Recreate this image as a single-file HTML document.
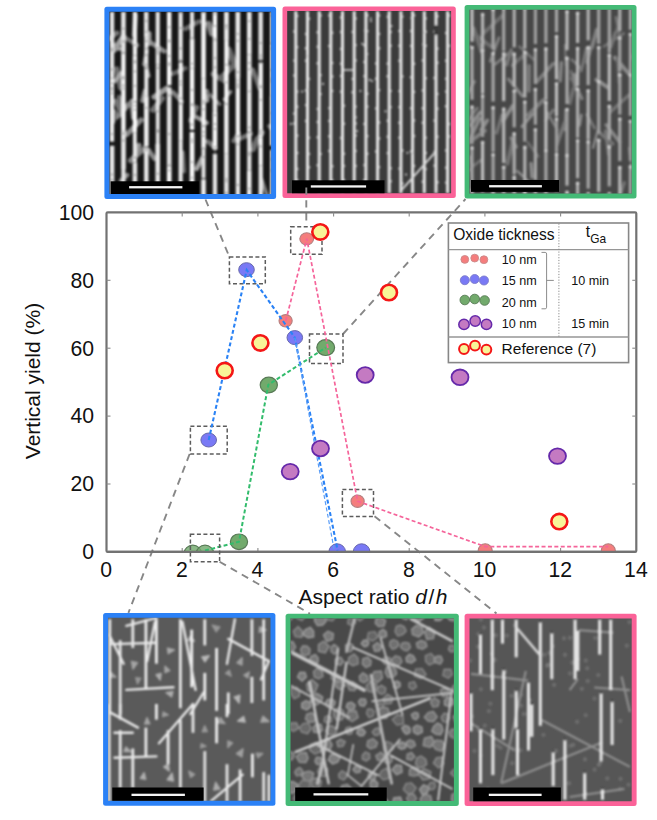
<!DOCTYPE html>
<html><head><meta charset="utf-8"><title>Vertical yield vs aspect ratio</title>
<style>
html,body{margin:0;padding:0;background:#fff;}
body{width:657px;height:820px;overflow:hidden;font-family:"Liberation Sans",sans-serif;}
svg{display:block;}
text{font-family:"Liberation Sans",sans-serif;fill:#111;}
</style></head><body>
<svg width="657" height="820" viewBox="0 0 657 820">
<defs>
<filter id="b1" x="-5%" y="-5%" width="110%" height="110%"><feGaussianBlur stdDeviation="0.85"/></filter>
<filter id="b2" x="-5%" y="-5%" width="110%" height="110%"><feGaussianBlur stdDeviation="1.1"/></filter>
<filter id="b3" x="-5%" y="-5%" width="110%" height="110%"><feGaussianBlur stdDeviation="1.3"/></filter>
<filter id="soft"><feGaussianBlur stdDeviation="0.35"/></filter>
</defs>
<rect width="657" height="820" fill="#fff"/>

<g>
<rect x="104.4" y="6.8" width="171.7" height="192.2" rx="2.5" fill="#2b81f6"/>
<clipPath id="cp1"><rect x="109.4" y="11.8" width="161.7" height="182.2"/></clipPath>
<g clip-path="url(#cp1)">
<rect x="108.4" y="10.8" width="163.70000000000002" height="184.2" fill="#171717"/>
<g filter="url(#b1)">
<line x1="124.0" y1="37.0" x2="137.5" y2="45.2" stroke="rgb(112,112,112)" stroke-width="4.2" stroke-linecap="round"/>
<line x1="118.8" y1="96.6" x2="120.1" y2="105.0" stroke="rgb(108,108,108)" stroke-width="3.8" stroke-linecap="round"/>
<line x1="198.5" y1="21.7" x2="185.5" y2="28.7" stroke="rgb(107,107,107)" stroke-width="4.7" stroke-linecap="round"/>
<line x1="127.3" y1="175.0" x2="120.8" y2="180.6" stroke="rgb(137,137,137)" stroke-width="4.3" stroke-linecap="round"/>
<line x1="196.8" y1="107.3" x2="190.6" y2="120.6" stroke="rgb(113,113,113)" stroke-width="4.7" stroke-linecap="round"/>
<line x1="212.7" y1="74.1" x2="225.3" y2="81.3" stroke="rgb(107,107,107)" stroke-width="4.8" stroke-linecap="round"/>
<line x1="131.7" y1="100.7" x2="133.2" y2="118.0" stroke="rgb(158,158,158)" stroke-width="4.1" stroke-linecap="round"/>
<line x1="149.6" y1="41.9" x2="164.2" y2="51.2" stroke="rgb(138,138,138)" stroke-width="4.6" stroke-linecap="round"/>
<line x1="250.9" y1="133.8" x2="240.4" y2="138.4" stroke="rgb(115,115,115)" stroke-width="4.5" stroke-linecap="round"/>
<line x1="116.8" y1="69.0" x2="120.4" y2="87.9" stroke="rgb(109,109,109)" stroke-width="5.2" stroke-linecap="round"/>
<line x1="202.1" y1="158.2" x2="196.7" y2="168.7" stroke="rgb(163,163,163)" stroke-width="4.7" stroke-linecap="round"/>
<line x1="183.2" y1="152.2" x2="184.4" y2="171.5" stroke="rgb(108,108,108)" stroke-width="3.4" stroke-linecap="round"/>
<line x1="141.0" y1="120.0" x2="127.1" y2="134.3" stroke="rgb(136,136,136)" stroke-width="5.1" stroke-linecap="round"/>
<line x1="252.8" y1="69.8" x2="259.4" y2="88.0" stroke="rgb(114,114,114)" stroke-width="4.5" stroke-linecap="round"/>
<line x1="144.7" y1="59.9" x2="148.8" y2="76.2" stroke="rgb(163,163,163)" stroke-width="3.4" stroke-linecap="round"/>
<line x1="129.6" y1="103.7" x2="116.7" y2="117.1" stroke="rgb(135,135,135)" stroke-width="5.0" stroke-linecap="round"/>
<line x1="268.9" y1="126.0" x2="276.5" y2="136.0" stroke="rgb(110,110,110)" stroke-width="3.7" stroke-linecap="round"/>
<line x1="146.9" y1="50.8" x2="144.0" y2="64.3" stroke="rgb(133,133,133)" stroke-width="3.9" stroke-linecap="round"/>
<line x1="116.0" y1="101.2" x2="122.4" y2="115.1" stroke="rgb(116,116,116)" stroke-width="5.0" stroke-linecap="round"/>
<line x1="192.8" y1="115.1" x2="206.9" y2="122.8" stroke="rgb(150,150,150)" stroke-width="4.2" stroke-linecap="round"/>
<line x1="173.1" y1="92.3" x2="181.8" y2="101.7" stroke="rgb(126,126,126)" stroke-width="4.3" stroke-linecap="round"/>
<line x1="114.3" y1="112.2" x2="112.9" y2="121.4" stroke="rgb(112,112,112)" stroke-width="5.7" stroke-linecap="round"/>
<line x1="208.6" y1="23.6" x2="211.7" y2="33.6" stroke="rgb(132,132,132)" stroke-width="5.7" stroke-linecap="round"/>
<line x1="206.8" y1="91.1" x2="207.1" y2="100.5" stroke="rgb(159,159,159)" stroke-width="4.4" stroke-linecap="round"/>
<line x1="123.4" y1="35.9" x2="114.2" y2="50.1" stroke="rgb(161,161,161)" stroke-width="5.4" stroke-linecap="round"/>
<line x1="135.5" y1="15.7" x2="134.2" y2="35.0" stroke="rgb(118,118,118)" stroke-width="5.0" stroke-linecap="round"/>
<line x1="257.2" y1="138.6" x2="253.3" y2="149.5" stroke="rgb(111,111,111)" stroke-width="5.0" stroke-linecap="round"/>
<line x1="121.2" y1="73.1" x2="115.1" y2="81.1" stroke="rgb(164,164,164)" stroke-width="4.1" stroke-linecap="round"/>
<line x1="145.5" y1="147.5" x2="130.6" y2="160.6" stroke="rgb(130,130,130)" stroke-width="5.3" stroke-linecap="round"/>
<line x1="229.0" y1="49.7" x2="233.9" y2="63.1" stroke="rgb(103,103,103)" stroke-width="5.8" stroke-linecap="round"/>
<line x1="145.0" y1="90.8" x2="142.4" y2="100.8" stroke="rgb(144,144,144)" stroke-width="4.4" stroke-linecap="round"/>
<line x1="260.9" y1="177.0" x2="267.1" y2="195.4" stroke="rgb(128,128,128)" stroke-width="3.5" stroke-linecap="round"/>
<line x1="185.4" y1="68.3" x2="172.7" y2="73.7" stroke="rgb(100,100,100)" stroke-width="4.4" stroke-linecap="round"/>
<line x1="138.8" y1="145.5" x2="135.4" y2="153.9" stroke="rgb(149,149,149)" stroke-width="5.2" stroke-linecap="round"/>
<line x1="230.7" y1="91.7" x2="224.2" y2="99.5" stroke="rgb(142,142,142)" stroke-width="3.4" stroke-linecap="round"/>
<line x1="262.4" y1="132.5" x2="254.9" y2="143.8" stroke="rgb(110,110,110)" stroke-width="5.1" stroke-linecap="round"/>
<line x1="117.1" y1="33.0" x2="108.9" y2="38.6" stroke="rgb(118,118,118)" stroke-width="4.8" stroke-linecap="round"/>
<line x1="205.8" y1="91.1" x2="219.9" y2="104.2" stroke="rgb(116,116,116)" stroke-width="3.3" stroke-linecap="round"/>
<line x1="238.7" y1="133.2" x2="233.5" y2="140.9" stroke="rgb(117,117,117)" stroke-width="4.3" stroke-linecap="round"/>
<line x1="148.6" y1="149.9" x2="154.5" y2="158.7" stroke="rgb(137,137,137)" stroke-width="4.5" stroke-linecap="round"/>
<line x1="232.9" y1="66.3" x2="222.4" y2="76.4" stroke="rgb(107,107,107)" stroke-width="5.6" stroke-linecap="round"/>
<line x1="166.6" y1="88.4" x2="154.2" y2="96.9" stroke="rgb(153,153,153)" stroke-width="5.4" stroke-linecap="round"/>
<line x1="148.9" y1="33.7" x2="148.7" y2="43.5" stroke="rgb(156,156,156)" stroke-width="5.2" stroke-linecap="round"/>
<line x1="207.8" y1="141.6" x2="215.2" y2="147.9" stroke="rgb(115,115,115)" stroke-width="4.6" stroke-linecap="round"/>
<line x1="162.1" y1="98.5" x2="152.9" y2="109.9" stroke="rgb(113,113,113)" stroke-width="5.5" stroke-linecap="round"/>
<line x1="112.0" y1="43.8" x2="119.0" y2="48.6" stroke="rgb(157,157,157)" stroke-width="4.7" stroke-linecap="round"/>
<rect x="109.9" y="11.8" width="4.3" height="66.8" fill="rgb(228,228,228)"/>
<rect x="109.8" y="78.6" width="4.3" height="63.1" fill="rgb(240,240,240)"/>
<rect x="109.8" y="145.7" width="4.5" height="52.9" fill="rgb(233,233,233)"/>
<circle cx="112.0" cy="179.9" r="0.9" fill="#777"/>
<circle cx="112.0" cy="174.5" r="0.9" fill="#777"/>
<circle cx="112.0" cy="48.7" r="0.9" fill="#777"/>
<circle cx="112.0" cy="93.3" r="0.9" fill="#777"/>
<circle cx="112.0" cy="87.7" r="0.9" fill="#777"/>
<circle cx="112.0" cy="83.3" r="0.9" fill="#777"/>
<circle cx="112.0" cy="69.4" r="0.9" fill="#777"/>
<circle cx="112.0" cy="134.1" r="0.9" fill="#777"/>
<circle cx="112.0" cy="89.8" r="0.9" fill="#777"/>
<circle cx="112.0" cy="50.6" r="0.9" fill="#777"/>
<rect x="121.1" y="11.8" width="4.6" height="41.7" fill="rgb(229,229,229)"/>
<rect x="121.2" y="53.5" width="4.4" height="76.7" fill="rgb(246,246,246)"/>
<rect x="121.1" y="130.1" width="4.7" height="38.9" fill="rgb(230,230,230)"/>
<rect x="121.3" y="169.0" width="4.2" height="66.1" fill="rgb(229,229,229)"/>
<circle cx="123.4" cy="41.5" r="0.9" fill="#777"/>
<circle cx="123.4" cy="133.5" r="0.9" fill="#777"/>
<circle cx="123.4" cy="52.6" r="0.9" fill="#777"/>
<circle cx="123.4" cy="140.5" r="0.9" fill="#777"/>
<circle cx="123.4" cy="192.9" r="0.9" fill="#777"/>
<circle cx="123.4" cy="85.4" r="0.9" fill="#777"/>
<circle cx="123.4" cy="88.6" r="0.9" fill="#777"/>
<circle cx="123.4" cy="76.8" r="0.9" fill="#777"/>
<circle cx="123.4" cy="28.6" r="0.9" fill="#777"/>
<circle cx="123.4" cy="78.5" r="0.9" fill="#777"/>
<rect x="132.8" y="11.8" width="4.3" height="43.6" fill="rgb(240,240,240)"/>
<rect x="132.7" y="55.4" width="4.4" height="46.1" fill="rgb(242,242,242)"/>
<rect x="132.8" y="101.5" width="4.1" height="31.2" fill="rgb(251,251,251)"/>
<rect x="132.9" y="132.7" width="3.9" height="29.6" fill="rgb(234,234,234)"/>
<rect x="132.6" y="162.4" width="4.6" height="39.9" fill="rgb(230,230,230)"/>
<circle cx="134.9" cy="85.8" r="0.9" fill="#777"/>
<circle cx="134.9" cy="109.6" r="0.9" fill="#777"/>
<circle cx="134.9" cy="105.6" r="0.9" fill="#777"/>
<circle cx="134.9" cy="101.9" r="0.9" fill="#777"/>
<circle cx="134.9" cy="71.4" r="0.9" fill="#777"/>
<circle cx="134.9" cy="62.6" r="0.9" fill="#777"/>
<circle cx="134.9" cy="157.5" r="0.9" fill="#777"/>
<circle cx="134.9" cy="45.2" r="0.9" fill="#777"/>
<circle cx="134.9" cy="174.9" r="0.9" fill="#777"/>
<circle cx="134.9" cy="60.8" r="0.9" fill="#777"/>
<rect x="144.0" y="11.8" width="4.5" height="25.9" fill="rgb(228,228,228)"/>
<rect x="144.3" y="37.7" width="4.0" height="58.4" fill="rgb(233,233,233)"/>
<rect x="144.0" y="96.2" width="4.7" height="50.0" fill="rgb(236,236,236)"/>
<rect x="144.1" y="148.1" width="4.4" height="76.0" fill="rgb(234,234,234)"/>
<circle cx="146.3" cy="107.8" r="0.9" fill="#777"/>
<circle cx="146.3" cy="55.2" r="0.9" fill="#777"/>
<circle cx="146.3" cy="31.7" r="0.9" fill="#777"/>
<circle cx="146.3" cy="41.2" r="0.9" fill="#777"/>
<circle cx="146.3" cy="21.0" r="0.9" fill="#777"/>
<circle cx="146.3" cy="48.6" r="0.9" fill="#777"/>
<circle cx="146.3" cy="68.6" r="0.9" fill="#777"/>
<circle cx="146.3" cy="67.4" r="0.9" fill="#777"/>
<circle cx="146.3" cy="150.2" r="0.9" fill="#777"/>
<circle cx="146.3" cy="64.6" r="0.9" fill="#777"/>
<rect x="155.7" y="11.8" width="4.1" height="52.5" fill="rgb(231,231,231)"/>
<rect x="155.8" y="64.3" width="3.9" height="79.7" fill="rgb(227,227,227)"/>
<rect x="155.4" y="144.0" width="4.6" height="53.3" fill="rgb(233,233,233)"/>
<circle cx="157.8" cy="131.7" r="0.9" fill="#777"/>
<circle cx="157.8" cy="130.2" r="0.9" fill="#777"/>
<circle cx="157.8" cy="131.4" r="0.9" fill="#777"/>
<circle cx="157.8" cy="111.3" r="0.9" fill="#777"/>
<circle cx="157.8" cy="173.7" r="0.9" fill="#777"/>
<circle cx="157.8" cy="188.6" r="0.9" fill="#777"/>
<circle cx="157.8" cy="67.9" r="0.9" fill="#777"/>
<circle cx="157.8" cy="51.0" r="0.9" fill="#777"/>
<circle cx="157.8" cy="53.6" r="0.9" fill="#777"/>
<circle cx="157.8" cy="48.0" r="0.9" fill="#777"/>
<rect x="167.0" y="11.8" width="4.4" height="73.5" fill="rgb(249,249,249)"/>
<rect x="166.9" y="87.3" width="4.6" height="79.4" fill="rgb(227,227,227)"/>
<rect x="166.9" y="166.7" width="4.6" height="28.9" fill="rgb(249,249,249)"/>
<circle cx="169.2" cy="41.5" r="0.9" fill="#777"/>
<circle cx="169.2" cy="27.2" r="0.9" fill="#777"/>
<circle cx="169.2" cy="165.1" r="0.9" fill="#777"/>
<circle cx="169.2" cy="170.4" r="0.9" fill="#777"/>
<circle cx="169.2" cy="134.0" r="0.9" fill="#777"/>
<circle cx="169.2" cy="63.2" r="0.9" fill="#777"/>
<circle cx="169.2" cy="55.9" r="0.9" fill="#777"/>
<circle cx="169.2" cy="65.2" r="0.9" fill="#777"/>
<circle cx="169.2" cy="95.5" r="0.9" fill="#777"/>
<circle cx="169.2" cy="40.5" r="0.9" fill="#777"/>
<rect x="178.5" y="11.8" width="4.2" height="49.5" fill="rgb(234,234,234)"/>
<rect x="178.6" y="62.3" width="4.2" height="78.5" fill="rgb(243,243,243)"/>
<rect x="178.6" y="140.8" width="4.1" height="78.1" fill="rgb(235,235,235)"/>
<circle cx="180.6" cy="12.0" r="0.9" fill="#777"/>
<circle cx="180.6" cy="81.3" r="0.9" fill="#777"/>
<circle cx="180.6" cy="98.3" r="0.9" fill="#777"/>
<circle cx="180.6" cy="103.4" r="0.9" fill="#777"/>
<circle cx="180.6" cy="48.4" r="0.9" fill="#777"/>
<circle cx="180.6" cy="103.8" r="0.9" fill="#777"/>
<circle cx="180.6" cy="12.7" r="0.9" fill="#777"/>
<circle cx="180.6" cy="59.9" r="0.9" fill="#777"/>
<circle cx="180.6" cy="28.2" r="0.9" fill="#777"/>
<circle cx="180.6" cy="84.6" r="0.9" fill="#777"/>
<rect x="190.0" y="11.8" width="4.1" height="27.3" fill="rgb(226,226,226)"/>
<rect x="189.8" y="39.1" width="4.6" height="29.6" fill="rgb(242,242,242)"/>
<rect x="189.8" y="68.7" width="4.5" height="61.2" fill="rgb(248,248,248)"/>
<rect x="189.7" y="131.9" width="4.7" height="67.0" fill="rgb(249,249,249)"/>
<circle cx="192.1" cy="63.6" r="0.9" fill="#777"/>
<circle cx="192.1" cy="124.5" r="0.9" fill="#777"/>
<circle cx="192.1" cy="38.2" r="0.9" fill="#777"/>
<circle cx="192.1" cy="162.1" r="0.9" fill="#777"/>
<circle cx="192.1" cy="142.1" r="0.9" fill="#777"/>
<circle cx="192.1" cy="105.3" r="0.9" fill="#777"/>
<circle cx="192.1" cy="90.0" r="0.9" fill="#777"/>
<circle cx="192.1" cy="139.5" r="0.9" fill="#777"/>
<circle cx="192.1" cy="103.9" r="0.9" fill="#777"/>
<circle cx="192.1" cy="177.6" r="0.9" fill="#777"/>
<rect x="201.2" y="11.8" width="4.6" height="66.4" fill="rgb(244,244,244)"/>
<rect x="201.3" y="78.2" width="4.5" height="70.5" fill="rgb(244,244,244)"/>
<rect x="201.5" y="148.7" width="4.0" height="29.7" fill="rgb(227,227,227)"/>
<rect x="201.2" y="179.3" width="4.6" height="77.8" fill="rgb(238,238,238)"/>
<circle cx="203.5" cy="126.2" r="0.9" fill="#777"/>
<circle cx="203.5" cy="125.9" r="0.9" fill="#777"/>
<circle cx="203.5" cy="135.8" r="0.9" fill="#777"/>
<circle cx="203.5" cy="100.9" r="0.9" fill="#777"/>
<circle cx="203.5" cy="12.4" r="0.9" fill="#777"/>
<circle cx="203.5" cy="157.1" r="0.9" fill="#777"/>
<circle cx="203.5" cy="148.1" r="0.9" fill="#777"/>
<circle cx="203.5" cy="103.4" r="0.9" fill="#777"/>
<circle cx="203.5" cy="109.3" r="0.9" fill="#777"/>
<circle cx="203.5" cy="131.9" r="0.9" fill="#777"/>
<rect x="212.8" y="11.8" width="4.3" height="28.6" fill="rgb(249,249,249)"/>
<rect x="212.7" y="40.4" width="4.5" height="71.5" fill="rgb(233,233,233)"/>
<rect x="212.6" y="112.0" width="4.7" height="37.7" fill="rgb(246,246,246)"/>
<rect x="212.8" y="153.7" width="4.3" height="71.5" fill="rgb(228,228,228)"/>
<circle cx="215.0" cy="151.5" r="0.9" fill="#777"/>
<circle cx="215.0" cy="124.2" r="0.9" fill="#777"/>
<circle cx="215.0" cy="128.9" r="0.9" fill="#777"/>
<circle cx="215.0" cy="25.9" r="0.9" fill="#777"/>
<circle cx="215.0" cy="38.7" r="0.9" fill="#777"/>
<circle cx="215.0" cy="58.1" r="0.9" fill="#777"/>
<circle cx="215.0" cy="147.2" r="0.9" fill="#777"/>
<circle cx="215.0" cy="67.3" r="0.9" fill="#777"/>
<circle cx="215.0" cy="115.2" r="0.9" fill="#777"/>
<circle cx="215.0" cy="14.1" r="0.9" fill="#777"/>
<rect x="224.1" y="11.8" width="4.7" height="28.3" fill="rgb(234,234,234)"/>
<rect x="224.3" y="40.1" width="4.3" height="63.1" fill="rgb(247,247,247)"/>
<rect x="224.1" y="103.2" width="4.5" height="50.6" fill="rgb(240,240,240)"/>
<rect x="224.1" y="153.8" width="4.6" height="42.1" fill="rgb(228,228,228)"/>
<circle cx="226.4" cy="64.6" r="0.9" fill="#777"/>
<circle cx="226.4" cy="25.7" r="0.9" fill="#777"/>
<circle cx="226.4" cy="104.1" r="0.9" fill="#777"/>
<circle cx="226.4" cy="193.0" r="0.9" fill="#777"/>
<circle cx="226.4" cy="192.9" r="0.9" fill="#777"/>
<circle cx="226.4" cy="82.3" r="0.9" fill="#777"/>
<circle cx="226.4" cy="178.8" r="0.9" fill="#777"/>
<circle cx="226.4" cy="181.3" r="0.9" fill="#777"/>
<circle cx="226.4" cy="25.4" r="0.9" fill="#777"/>
<circle cx="226.4" cy="28.3" r="0.9" fill="#777"/>
<rect x="235.5" y="11.8" width="4.7" height="66.1" fill="rgb(234,234,234)"/>
<rect x="235.7" y="77.9" width="4.3" height="58.2" fill="rgb(246,246,246)"/>
<rect x="235.7" y="136.1" width="4.3" height="63.7" fill="rgb(233,233,233)"/>
<circle cx="237.8" cy="83.6" r="0.9" fill="#777"/>
<circle cx="237.8" cy="40.8" r="0.9" fill="#777"/>
<circle cx="237.8" cy="184.9" r="0.9" fill="#777"/>
<circle cx="237.8" cy="136.0" r="0.9" fill="#777"/>
<circle cx="237.8" cy="85.7" r="0.9" fill="#777"/>
<circle cx="237.8" cy="144.3" r="0.9" fill="#777"/>
<circle cx="237.8" cy="87.6" r="0.9" fill="#777"/>
<circle cx="237.8" cy="80.3" r="0.9" fill="#777"/>
<circle cx="237.8" cy="33.8" r="0.9" fill="#777"/>
<circle cx="237.8" cy="72.2" r="0.9" fill="#777"/>
<rect x="247.0" y="11.8" width="4.6" height="42.9" fill="rgb(236,236,236)"/>
<rect x="247.0" y="54.7" width="4.5" height="76.7" fill="rgb(232,232,232)"/>
<rect x="247.2" y="131.3" width="4.2" height="38.9" fill="rgb(228,228,228)"/>
<rect x="247.0" y="170.3" width="4.5" height="44.8" fill="rgb(239,239,239)"/>
<circle cx="249.3" cy="62.9" r="0.9" fill="#777"/>
<circle cx="249.3" cy="21.2" r="0.9" fill="#777"/>
<circle cx="249.3" cy="132.4" r="0.9" fill="#777"/>
<circle cx="249.3" cy="127.5" r="0.9" fill="#777"/>
<circle cx="249.3" cy="38.9" r="0.9" fill="#777"/>
<circle cx="249.3" cy="188.7" r="0.9" fill="#777"/>
<circle cx="249.3" cy="91.3" r="0.9" fill="#777"/>
<circle cx="249.3" cy="69.3" r="0.9" fill="#777"/>
<circle cx="249.3" cy="152.7" r="0.9" fill="#777"/>
<circle cx="249.3" cy="154.9" r="0.9" fill="#777"/>
<rect x="258.4" y="11.8" width="4.5" height="48.5" fill="rgb(226,226,226)"/>
<rect x="258.6" y="62.3" width="4.3" height="75.2" fill="rgb(243,243,243)"/>
<rect x="258.6" y="137.6" width="4.2" height="27.7" fill="rgb(249,249,249)"/>
<rect x="258.6" y="165.3" width="4.3" height="60.4" fill="rgb(235,235,235)"/>
<circle cx="260.7" cy="42.9" r="0.9" fill="#777"/>
<circle cx="260.7" cy="87.4" r="0.9" fill="#777"/>
<circle cx="260.7" cy="63.1" r="0.9" fill="#777"/>
<circle cx="260.7" cy="58.4" r="0.9" fill="#777"/>
<circle cx="260.7" cy="146.4" r="0.9" fill="#777"/>
<circle cx="260.7" cy="130.7" r="0.9" fill="#777"/>
<circle cx="260.7" cy="85.8" r="0.9" fill="#777"/>
<circle cx="260.7" cy="55.3" r="0.9" fill="#777"/>
<circle cx="260.7" cy="99.8" r="0.9" fill="#777"/>
<circle cx="260.7" cy="133.7" r="0.9" fill="#777"/>
<rect x="270.1" y="11.8" width="4.0" height="31.6" fill="rgb(246,246,246)"/>
<rect x="270.0" y="43.4" width="4.3" height="52.5" fill="rgb(251,251,251)"/>
<rect x="269.8" y="95.9" width="4.7" height="49.9" fill="rgb(236,236,236)"/>
<rect x="270.1" y="149.8" width="4.1" height="48.5" fill="rgb(243,243,243)"/>
<circle cx="272.2" cy="43.6" r="0.9" fill="#777"/>
<circle cx="272.2" cy="113.1" r="0.9" fill="#777"/>
<circle cx="272.2" cy="70.0" r="0.9" fill="#777"/>
<circle cx="272.2" cy="78.9" r="0.9" fill="#777"/>
<circle cx="272.2" cy="159.3" r="0.9" fill="#777"/>
<circle cx="272.2" cy="48.6" r="0.9" fill="#777"/>
<circle cx="272.2" cy="15.5" r="0.9" fill="#777"/>
<circle cx="272.2" cy="170.4" r="0.9" fill="#777"/>
<circle cx="272.2" cy="81.6" r="0.9" fill="#777"/>
<circle cx="272.2" cy="147.7" r="0.9" fill="#777"/>
</g>
<rect x="110.6" y="181.3" width="88.2" height="15.7" fill="#000"/>
<rect x="129.1" y="186.1" width="53.3" height="2.3" fill="#f4f4f4" filter="url(#soft)"/>
</g></g>
<g>
<rect x="282.5" y="6.4" width="173.3" height="191.6" rx="2.5" fill="#fb6298"/>
<clipPath id="cp2"><rect x="287.2" y="11.1" width="163.9" height="182.2"/></clipPath>
<g clip-path="url(#cp2)">
<rect x="286.2" y="10.100000000000001" width="165.90000000000003" height="184.20000000000002" fill="#3b3b3b"/>
<g filter="url(#b1)">
<rect x="294.3" y="11.100000000000001" width="3.0" height="182.20000000000002" fill="#e8e8e8"/>
<circle cx="297.3" cy="15.9" r="1.2" fill="#d6d6d6"/>
<circle cx="294.3" cy="31.5" r="1.2" fill="#d6d6d6"/>
<circle cx="297.3" cy="47.1" r="1.2" fill="#d6d6d6"/>
<circle cx="294.3" cy="60.6" r="1.2" fill="#d6d6d6"/>
<circle cx="294.3" cy="75.5" r="1.2" fill="#d6d6d6"/>
<circle cx="297.3" cy="91.6" r="1.2" fill="#d6d6d6"/>
<circle cx="297.3" cy="106.8" r="1.2" fill="#d6d6d6"/>
<circle cx="294.3" cy="123.5" r="1.2" fill="#d6d6d6"/>
<circle cx="297.3" cy="135.6" r="1.2" fill="#d6d6d6"/>
<circle cx="297.3" cy="152.9" r="1.2" fill="#d6d6d6"/>
<circle cx="297.3" cy="169.0" r="1.2" fill="#d6d6d6"/>
<circle cx="297.3" cy="180.1" r="1.2" fill="#d6d6d6"/>
<rect x="306.0" y="11.100000000000001" width="3.0" height="182.20000000000002" fill="#e8e8e8"/>
<circle cx="309.0" cy="18.8" r="1.2" fill="#d6d6d6"/>
<circle cx="306.0" cy="34.0" r="1.2" fill="#d6d6d6"/>
<circle cx="306.0" cy="48.2" r="1.2" fill="#d6d6d6"/>
<circle cx="306.0" cy="60.7" r="1.2" fill="#d6d6d6"/>
<circle cx="309.0" cy="78.9" r="1.2" fill="#d6d6d6"/>
<circle cx="306.0" cy="90.4" r="1.2" fill="#d6d6d6"/>
<circle cx="306.0" cy="105.1" r="1.2" fill="#d6d6d6"/>
<circle cx="306.0" cy="121.0" r="1.2" fill="#d6d6d6"/>
<circle cx="309.0" cy="137.7" r="1.2" fill="#d6d6d6"/>
<circle cx="309.0" cy="153.9" r="1.2" fill="#d6d6d6"/>
<circle cx="309.0" cy="167.2" r="1.2" fill="#d6d6d6"/>
<circle cx="306.0" cy="182.9" r="1.2" fill="#d6d6d6"/>
<rect x="317.7" y="11.100000000000001" width="3.0" height="182.20000000000002" fill="#e8e8e8"/>
<circle cx="320.7" cy="15.5" r="1.2" fill="#d6d6d6"/>
<circle cx="317.7" cy="32.2" r="1.2" fill="#d6d6d6"/>
<circle cx="317.7" cy="46.7" r="1.2" fill="#d6d6d6"/>
<circle cx="317.7" cy="63.3" r="1.2" fill="#d6d6d6"/>
<circle cx="320.7" cy="75.1" r="1.2" fill="#d6d6d6"/>
<circle cx="320.7" cy="94.1" r="1.2" fill="#d6d6d6"/>
<circle cx="317.7" cy="108.9" r="1.2" fill="#d6d6d6"/>
<circle cx="317.7" cy="122.0" r="1.2" fill="#d6d6d6"/>
<circle cx="317.7" cy="137.3" r="1.2" fill="#d6d6d6"/>
<circle cx="320.7" cy="153.9" r="1.2" fill="#d6d6d6"/>
<circle cx="317.7" cy="165.3" r="1.2" fill="#d6d6d6"/>
<circle cx="320.7" cy="182.1" r="1.2" fill="#d6d6d6"/>
<rect x="329.3" y="11.100000000000001" width="3.0" height="182.20000000000002" fill="#e8e8e8"/>
<circle cx="329.3" cy="15.4" r="1.2" fill="#d6d6d6"/>
<circle cx="332.3" cy="32.8" r="1.2" fill="#d6d6d6"/>
<circle cx="329.3" cy="46.0" r="1.2" fill="#d6d6d6"/>
<circle cx="332.3" cy="62.9" r="1.2" fill="#d6d6d6"/>
<circle cx="332.3" cy="76.5" r="1.2" fill="#d6d6d6"/>
<circle cx="332.3" cy="90.9" r="1.2" fill="#d6d6d6"/>
<circle cx="329.3" cy="108.1" r="1.2" fill="#d6d6d6"/>
<circle cx="329.3" cy="120.9" r="1.2" fill="#d6d6d6"/>
<circle cx="329.3" cy="136.3" r="1.2" fill="#d6d6d6"/>
<circle cx="329.3" cy="151.0" r="1.2" fill="#d6d6d6"/>
<circle cx="332.3" cy="166.2" r="1.2" fill="#d6d6d6"/>
<circle cx="332.3" cy="180.5" r="1.2" fill="#d6d6d6"/>
<rect x="341.0" y="11.100000000000001" width="3.0" height="182.20000000000002" fill="#e8e8e8"/>
<circle cx="341.0" cy="17.5" r="1.2" fill="#d6d6d6"/>
<circle cx="341.0" cy="32.0" r="1.2" fill="#d6d6d6"/>
<circle cx="341.0" cy="48.9" r="1.2" fill="#d6d6d6"/>
<circle cx="341.0" cy="63.8" r="1.2" fill="#d6d6d6"/>
<circle cx="341.0" cy="76.0" r="1.2" fill="#d6d6d6"/>
<circle cx="341.0" cy="91.8" r="1.2" fill="#d6d6d6"/>
<circle cx="344.0" cy="105.8" r="1.2" fill="#d6d6d6"/>
<circle cx="344.0" cy="123.7" r="1.2" fill="#d6d6d6"/>
<circle cx="341.0" cy="138.0" r="1.2" fill="#d6d6d6"/>
<circle cx="344.0" cy="153.8" r="1.2" fill="#d6d6d6"/>
<circle cx="344.0" cy="165.9" r="1.2" fill="#d6d6d6"/>
<circle cx="344.0" cy="180.2" r="1.2" fill="#d6d6d6"/>
<rect x="352.7" y="11.100000000000001" width="3.0" height="182.20000000000002" fill="#e8e8e8"/>
<circle cx="355.7" cy="18.5" r="1.2" fill="#d6d6d6"/>
<circle cx="352.7" cy="31.9" r="1.2" fill="#d6d6d6"/>
<circle cx="355.7" cy="45.1" r="1.2" fill="#d6d6d6"/>
<circle cx="355.7" cy="60.4" r="1.2" fill="#d6d6d6"/>
<circle cx="352.7" cy="78.9" r="1.2" fill="#d6d6d6"/>
<circle cx="352.7" cy="92.3" r="1.2" fill="#d6d6d6"/>
<circle cx="355.7" cy="106.6" r="1.2" fill="#d6d6d6"/>
<circle cx="355.7" cy="123.4" r="1.2" fill="#d6d6d6"/>
<circle cx="355.7" cy="135.5" r="1.2" fill="#d6d6d6"/>
<circle cx="355.7" cy="150.9" r="1.2" fill="#d6d6d6"/>
<circle cx="355.7" cy="165.9" r="1.2" fill="#d6d6d6"/>
<circle cx="355.7" cy="183.0" r="1.2" fill="#d6d6d6"/>
<rect x="364.4" y="11.100000000000001" width="3.0" height="182.20000000000002" fill="#e8e8e8"/>
<circle cx="367.4" cy="15.2" r="1.2" fill="#d6d6d6"/>
<circle cx="367.4" cy="31.1" r="1.2" fill="#d6d6d6"/>
<circle cx="364.4" cy="45.3" r="1.2" fill="#d6d6d6"/>
<circle cx="364.4" cy="62.0" r="1.2" fill="#d6d6d6"/>
<circle cx="364.4" cy="76.1" r="1.2" fill="#d6d6d6"/>
<circle cx="367.4" cy="93.7" r="1.2" fill="#d6d6d6"/>
<circle cx="367.4" cy="106.6" r="1.2" fill="#d6d6d6"/>
<circle cx="364.4" cy="123.9" r="1.2" fill="#d6d6d6"/>
<circle cx="367.4" cy="136.1" r="1.2" fill="#d6d6d6"/>
<circle cx="367.4" cy="153.8" r="1.2" fill="#d6d6d6"/>
<circle cx="364.4" cy="165.1" r="1.2" fill="#d6d6d6"/>
<circle cx="364.4" cy="180.2" r="1.2" fill="#d6d6d6"/>
<rect x="376.1" y="11.100000000000001" width="3.0" height="182.20000000000002" fill="#e8e8e8"/>
<circle cx="379.1" cy="15.5" r="1.2" fill="#d6d6d6"/>
<circle cx="379.1" cy="33.9" r="1.2" fill="#d6d6d6"/>
<circle cx="379.1" cy="48.3" r="1.2" fill="#d6d6d6"/>
<circle cx="376.1" cy="63.4" r="1.2" fill="#d6d6d6"/>
<circle cx="376.1" cy="78.8" r="1.2" fill="#d6d6d6"/>
<circle cx="379.1" cy="90.1" r="1.2" fill="#d6d6d6"/>
<circle cx="376.1" cy="108.4" r="1.2" fill="#d6d6d6"/>
<circle cx="379.1" cy="122.5" r="1.2" fill="#d6d6d6"/>
<circle cx="379.1" cy="138.5" r="1.2" fill="#d6d6d6"/>
<circle cx="376.1" cy="151.5" r="1.2" fill="#d6d6d6"/>
<circle cx="379.1" cy="167.1" r="1.2" fill="#d6d6d6"/>
<circle cx="376.1" cy="183.1" r="1.2" fill="#d6d6d6"/>
<rect x="387.7" y="11.100000000000001" width="3.0" height="182.20000000000002" fill="#e8e8e8"/>
<circle cx="387.7" cy="16.7" r="1.2" fill="#d6d6d6"/>
<circle cx="390.7" cy="32.0" r="1.2" fill="#d6d6d6"/>
<circle cx="390.7" cy="45.7" r="1.2" fill="#d6d6d6"/>
<circle cx="387.7" cy="63.6" r="1.2" fill="#d6d6d6"/>
<circle cx="387.7" cy="76.2" r="1.2" fill="#d6d6d6"/>
<circle cx="390.7" cy="90.9" r="1.2" fill="#d6d6d6"/>
<circle cx="390.7" cy="107.1" r="1.2" fill="#d6d6d6"/>
<circle cx="387.7" cy="120.8" r="1.2" fill="#d6d6d6"/>
<circle cx="387.7" cy="136.8" r="1.2" fill="#d6d6d6"/>
<circle cx="387.7" cy="153.1" r="1.2" fill="#d6d6d6"/>
<circle cx="390.7" cy="168.2" r="1.2" fill="#d6d6d6"/>
<circle cx="390.7" cy="181.3" r="1.2" fill="#d6d6d6"/>
<rect x="399.4" y="11.100000000000001" width="3.0" height="182.20000000000002" fill="#e8e8e8"/>
<circle cx="402.4" cy="16.6" r="1.2" fill="#d6d6d6"/>
<circle cx="399.4" cy="30.9" r="1.2" fill="#d6d6d6"/>
<circle cx="399.4" cy="45.8" r="1.2" fill="#d6d6d6"/>
<circle cx="399.4" cy="60.7" r="1.2" fill="#d6d6d6"/>
<circle cx="402.4" cy="76.4" r="1.2" fill="#d6d6d6"/>
<circle cx="399.4" cy="91.1" r="1.2" fill="#d6d6d6"/>
<circle cx="399.4" cy="107.1" r="1.2" fill="#d6d6d6"/>
<circle cx="399.4" cy="122.7" r="1.2" fill="#d6d6d6"/>
<circle cx="399.4" cy="137.7" r="1.2" fill="#d6d6d6"/>
<circle cx="402.4" cy="150.5" r="1.2" fill="#d6d6d6"/>
<circle cx="399.4" cy="168.6" r="1.2" fill="#d6d6d6"/>
<circle cx="402.4" cy="183.5" r="1.2" fill="#d6d6d6"/>
<rect x="411.1" y="11.100000000000001" width="3.0" height="182.20000000000002" fill="#e8e8e8"/>
<circle cx="414.1" cy="15.3" r="1.2" fill="#d6d6d6"/>
<circle cx="411.1" cy="31.0" r="1.2" fill="#d6d6d6"/>
<circle cx="411.1" cy="45.9" r="1.2" fill="#d6d6d6"/>
<circle cx="414.1" cy="63.8" r="1.2" fill="#d6d6d6"/>
<circle cx="411.1" cy="77.2" r="1.2" fill="#d6d6d6"/>
<circle cx="414.1" cy="91.9" r="1.2" fill="#d6d6d6"/>
<circle cx="411.1" cy="108.2" r="1.2" fill="#d6d6d6"/>
<circle cx="414.1" cy="120.5" r="1.2" fill="#d6d6d6"/>
<circle cx="414.1" cy="136.0" r="1.2" fill="#d6d6d6"/>
<circle cx="411.1" cy="151.5" r="1.2" fill="#d6d6d6"/>
<circle cx="414.1" cy="165.9" r="1.2" fill="#d6d6d6"/>
<circle cx="411.1" cy="180.3" r="1.2" fill="#d6d6d6"/>
<rect x="422.8" y="11.100000000000001" width="3.0" height="182.20000000000002" fill="#e8e8e8"/>
<circle cx="425.8" cy="18.4" r="1.2" fill="#d6d6d6"/>
<circle cx="425.8" cy="31.7" r="1.2" fill="#d6d6d6"/>
<circle cx="425.8" cy="45.8" r="1.2" fill="#d6d6d6"/>
<circle cx="422.8" cy="60.4" r="1.2" fill="#d6d6d6"/>
<circle cx="425.8" cy="78.3" r="1.2" fill="#d6d6d6"/>
<circle cx="422.8" cy="90.4" r="1.2" fill="#d6d6d6"/>
<circle cx="422.8" cy="108.3" r="1.2" fill="#d6d6d6"/>
<circle cx="422.8" cy="122.7" r="1.2" fill="#d6d6d6"/>
<circle cx="425.8" cy="137.7" r="1.2" fill="#d6d6d6"/>
<circle cx="425.8" cy="152.9" r="1.2" fill="#d6d6d6"/>
<circle cx="425.8" cy="169.1" r="1.2" fill="#d6d6d6"/>
<circle cx="422.8" cy="181.8" r="1.2" fill="#d6d6d6"/>
<rect x="434.5" y="11.100000000000001" width="3.0" height="182.20000000000002" fill="#e8e8e8"/>
<circle cx="437.5" cy="16.3" r="1.2" fill="#d6d6d6"/>
<circle cx="434.5" cy="31.8" r="1.2" fill="#d6d6d6"/>
<circle cx="437.5" cy="48.6" r="1.2" fill="#d6d6d6"/>
<circle cx="437.5" cy="62.7" r="1.2" fill="#d6d6d6"/>
<circle cx="434.5" cy="78.0" r="1.2" fill="#d6d6d6"/>
<circle cx="437.5" cy="93.9" r="1.2" fill="#d6d6d6"/>
<circle cx="437.5" cy="108.7" r="1.2" fill="#d6d6d6"/>
<circle cx="434.5" cy="120.6" r="1.2" fill="#d6d6d6"/>
<circle cx="437.5" cy="136.7" r="1.2" fill="#d6d6d6"/>
<circle cx="434.5" cy="151.9" r="1.2" fill="#d6d6d6"/>
<circle cx="434.5" cy="165.6" r="1.2" fill="#d6d6d6"/>
<circle cx="437.5" cy="182.3" r="1.2" fill="#d6d6d6"/>
<rect x="446.1" y="11.100000000000001" width="3.0" height="182.20000000000002" fill="#e8e8e8"/>
<circle cx="449.1" cy="15.5" r="1.2" fill="#d6d6d6"/>
<circle cx="446.1" cy="33.0" r="1.2" fill="#d6d6d6"/>
<circle cx="449.1" cy="45.7" r="1.2" fill="#d6d6d6"/>
<circle cx="446.1" cy="60.7" r="1.2" fill="#d6d6d6"/>
<circle cx="446.1" cy="78.8" r="1.2" fill="#d6d6d6"/>
<circle cx="446.1" cy="91.6" r="1.2" fill="#d6d6d6"/>
<circle cx="446.1" cy="106.3" r="1.2" fill="#d6d6d6"/>
<circle cx="449.1" cy="124.0" r="1.2" fill="#d6d6d6"/>
<circle cx="449.1" cy="136.4" r="1.2" fill="#d6d6d6"/>
<circle cx="446.1" cy="150.4" r="1.2" fill="#d6d6d6"/>
<circle cx="446.1" cy="167.7" r="1.2" fill="#d6d6d6"/>
<circle cx="446.1" cy="182.6" r="1.2" fill="#d6d6d6"/>
<rect x="434.0" y="25.1" width="4" height="10" fill="#3b3b3b"/>
<line x1="401.3" y1="190.4" x2="434.2" y2="153.4" stroke="#d8d8d8" stroke-width="1.8"/>
<line x1="344" y1="70" x2="354" y2="70" stroke="#d8d8d8" stroke-width="1.5"/>
<circle cx="423.1" cy="44.4" r="1.1" fill="#c8c8c8"/>
<circle cx="323.0" cy="83.9" r="1.1" fill="#c8c8c8"/>
<circle cx="372.1" cy="81.0" r="1.1" fill="#c8c8c8"/>
<circle cx="307.4" cy="56.1" r="1.1" fill="#c8c8c8"/>
<circle cx="406.0" cy="174.6" r="1.1" fill="#c8c8c8"/>
<circle cx="293.9" cy="113.6" r="1.1" fill="#c8c8c8"/>
<circle cx="411.3" cy="18.0" r="1.1" fill="#c8c8c8"/>
<circle cx="424.6" cy="32.6" r="1.1" fill="#c8c8c8"/>
<circle cx="385.5" cy="111.3" r="1.1" fill="#c8c8c8"/>
<circle cx="390.0" cy="66.9" r="1.1" fill="#c8c8c8"/>
<circle cx="356.0" cy="117.3" r="1.1" fill="#c8c8c8"/>
<circle cx="357.0" cy="131.1" r="1.1" fill="#c8c8c8"/>
<circle cx="360.4" cy="91.0" r="1.1" fill="#c8c8c8"/>
<circle cx="291.0" cy="123.9" r="1.1" fill="#c8c8c8"/>
<circle cx="367.4" cy="54.0" r="1.1" fill="#c8c8c8"/>
<circle cx="412.3" cy="153.2" r="1.1" fill="#c8c8c8"/>
<circle cx="362.3" cy="43.8" r="1.1" fill="#c8c8c8"/>
<circle cx="364.8" cy="30.6" r="1.1" fill="#c8c8c8"/>
<circle cx="308.3" cy="89.6" r="1.1" fill="#c8c8c8"/>
<circle cx="302.2" cy="91.6" r="1.1" fill="#c8c8c8"/>
<circle cx="370.8" cy="18.5" r="1.1" fill="#c8c8c8"/>
<circle cx="391.5" cy="26.1" r="1.1" fill="#c8c8c8"/>
<circle cx="407.4" cy="152.8" r="1.1" fill="#c8c8c8"/>
<circle cx="371.0" cy="21.0" r="1.1" fill="#c8c8c8"/>
<circle cx="369.8" cy="79.9" r="1.1" fill="#c8c8c8"/>
</g>
<rect x="292.0" y="180.3" width="92.5" height="15.9" fill="#000"/>
<rect x="310.8" y="185.3" width="55.3" height="2.3" fill="#f4f4f4" filter="url(#soft)"/>
</g></g>
<g>
<rect x="464.6" y="5.0" width="171.9" height="193.4" rx="2.5" fill="#44ba76"/>
<clipPath id="cp3"><rect x="469.4" y="9.8" width="162.3" height="183.8"/></clipPath>
<g clip-path="url(#cp3)">
<rect x="468.40000000000003" y="8.8" width="164.3" height="185.79999999999998" fill="#474747"/>
<g filter="url(#b2)">
<line x1="623.7" y1="33.5" x2="603.9" y2="46.4" stroke="rgb(112,112,112)" stroke-width="2.8" stroke-linecap="round"/>
<line x1="628.7" y1="95.3" x2="610.0" y2="112.3" stroke="rgb(115,115,115)" stroke-width="3.5" stroke-linecap="round"/>
<line x1="586.4" y1="48.2" x2="581.3" y2="71.0" stroke="rgb(121,121,121)" stroke-width="2.7" stroke-linecap="round"/>
<line x1="614.9" y1="57.6" x2="630.0" y2="75.0" stroke="rgb(137,137,137)" stroke-width="3.9" stroke-linecap="round"/>
<line x1="547.3" y1="112.7" x2="557.3" y2="129.8" stroke="rgb(128,128,128)" stroke-width="2.6" stroke-linecap="round"/>
<line x1="499.0" y1="37.8" x2="490.2" y2="61.2" stroke="rgb(129,129,129)" stroke-width="2.8" stroke-linecap="round"/>
<line x1="596.8" y1="29.8" x2="591.8" y2="47.6" stroke="rgb(128,128,128)" stroke-width="3.9" stroke-linecap="round"/>
<line x1="542.9" y1="100.4" x2="528.0" y2="115.2" stroke="rgb(121,121,121)" stroke-width="4.0" stroke-linecap="round"/>
<line x1="571.6" y1="78.3" x2="581.9" y2="98.6" stroke="rgb(128,128,128)" stroke-width="3.4" stroke-linecap="round"/>
<line x1="527.9" y1="142.7" x2="538.2" y2="156.3" stroke="rgb(108,108,108)" stroke-width="2.9" stroke-linecap="round"/>
<line x1="553.2" y1="63.7" x2="536.0" y2="82.5" stroke="rgb(125,125,125)" stroke-width="3.6" stroke-linecap="round"/>
<line x1="590.7" y1="48.3" x2="587.0" y2="62.5" stroke="rgb(131,131,131)" stroke-width="3.3" stroke-linecap="round"/>
<line x1="614.7" y1="32.7" x2="610.6" y2="45.7" stroke="rgb(106,106,106)" stroke-width="2.6" stroke-linecap="round"/>
<line x1="561.4" y1="62.6" x2="560.2" y2="80.9" stroke="rgb(131,131,131)" stroke-width="3.4" stroke-linecap="round"/>
<line x1="565.0" y1="45.3" x2="566.0" y2="65.2" stroke="rgb(113,113,113)" stroke-width="2.5" stroke-linecap="round"/>
<line x1="599.5" y1="132.8" x2="612.7" y2="143.8" stroke="rgb(114,114,114)" stroke-width="3.8" stroke-linecap="round"/>
<line x1="596.3" y1="79.7" x2="608.1" y2="87.6" stroke="rgb(140,140,140)" stroke-width="3.8" stroke-linecap="round"/>
<line x1="565.9" y1="110.3" x2="565.2" y2="130.0" stroke="rgb(136,136,136)" stroke-width="2.9" stroke-linecap="round"/>
<line x1="616.0" y1="17.4" x2="619.5" y2="35.6" stroke="rgb(120,120,120)" stroke-width="2.7" stroke-linecap="round"/>
<line x1="617.4" y1="28.0" x2="611.3" y2="46.9" stroke="rgb(117,117,117)" stroke-width="2.7" stroke-linecap="round"/>
<line x1="501.8" y1="115.5" x2="496.7" y2="132.9" stroke="rgb(116,116,116)" stroke-width="3.3" stroke-linecap="round"/>
<line x1="479.7" y1="118.6" x2="468.5" y2="141.9" stroke="rgb(135,135,135)" stroke-width="3.6" stroke-linecap="round"/>
<line x1="470.4" y1="156.6" x2="472.0" y2="178.4" stroke="rgb(133,133,133)" stroke-width="2.8" stroke-linecap="round"/>
<line x1="631.1" y1="55.2" x2="645.0" y2="70.0" stroke="rgb(121,121,121)" stroke-width="3.6" stroke-linecap="round"/>
<line x1="512.6" y1="106.0" x2="503.3" y2="120.3" stroke="rgb(138,138,138)" stroke-width="4.0" stroke-linecap="round"/>
<line x1="517.4" y1="171.2" x2="535.3" y2="187.6" stroke="rgb(137,137,137)" stroke-width="2.5" stroke-linecap="round"/>
<line x1="511.7" y1="50.8" x2="494.6" y2="64.6" stroke="rgb(125,125,125)" stroke-width="2.8" stroke-linecap="round"/>
<line x1="532.5" y1="114.3" x2="522.1" y2="126.5" stroke="rgb(139,139,139)" stroke-width="3.2" stroke-linecap="round"/>
<line x1="605.7" y1="131.0" x2="608.7" y2="154.6" stroke="rgb(119,119,119)" stroke-width="3.4" stroke-linecap="round"/>
<line x1="519.3" y1="46.6" x2="534.3" y2="59.9" stroke="rgb(115,115,115)" stroke-width="2.7" stroke-linecap="round"/>
<line x1="473.8" y1="28.3" x2="481.4" y2="52.0" stroke="rgb(114,114,114)" stroke-width="3.6" stroke-linecap="round"/>
<line x1="474.4" y1="33.9" x2="490.5" y2="46.2" stroke="rgb(109,109,109)" stroke-width="3.6" stroke-linecap="round"/>
<line x1="480.1" y1="112.4" x2="470.7" y2="125.2" stroke="rgb(139,139,139)" stroke-width="3.8" stroke-linecap="round"/>
<line x1="480.1" y1="160.6" x2="461.0" y2="176.2" stroke="rgb(111,111,111)" stroke-width="2.9" stroke-linecap="round"/>
<line x1="502.4" y1="15.7" x2="483.9" y2="32.8" stroke="rgb(110,110,110)" stroke-width="3.7" stroke-linecap="round"/>
<line x1="571.9" y1="59.7" x2="580.3" y2="67.8" stroke="rgb(118,118,118)" stroke-width="2.9" stroke-linecap="round"/>
<line x1="524.0" y1="55.2" x2="512.2" y2="65.4" stroke="rgb(108,108,108)" stroke-width="3.6" stroke-linecap="round"/>
<line x1="529.1" y1="65.6" x2="528.9" y2="91.0" stroke="rgb(123,123,123)" stroke-width="3.4" stroke-linecap="round"/>
<line x1="474.4" y1="81.6" x2="465.6" y2="96.1" stroke="rgb(127,127,127)" stroke-width="3.2" stroke-linecap="round"/>
<line x1="477.2" y1="108.2" x2="464.1" y2="125.2" stroke="rgb(123,123,123)" stroke-width="2.8" stroke-linecap="round"/>
<line x1="469.6" y1="44.9" x2="451.5" y2="57.7" stroke="rgb(105,105,105)" stroke-width="3.0" stroke-linecap="round"/>
<line x1="484.9" y1="130.6" x2="466.3" y2="144.4" stroke="rgb(127,127,127)" stroke-width="3.9" stroke-linecap="round"/>
<line x1="553.0" y1="110.3" x2="545.6" y2="120.4" stroke="rgb(119,119,119)" stroke-width="3.2" stroke-linecap="round"/>
<line x1="487.2" y1="120.4" x2="481.1" y2="129.9" stroke="rgb(140,140,140)" stroke-width="3.7" stroke-linecap="round"/>
<line x1="571.3" y1="71.6" x2="574.7" y2="87.7" stroke="rgb(110,110,110)" stroke-width="3.1" stroke-linecap="round"/>
<line x1="574.2" y1="74.4" x2="576.4" y2="89.1" stroke="rgb(139,139,139)" stroke-width="3.3" stroke-linecap="round"/>
<line x1="531.0" y1="163.4" x2="532.0" y2="177.1" stroke="rgb(139,139,139)" stroke-width="3.4" stroke-linecap="round"/>
<line x1="581.3" y1="115.0" x2="579.6" y2="125.4" stroke="rgb(138,138,138)" stroke-width="2.7" stroke-linecap="round"/>
<line x1="606.2" y1="124.9" x2="619.7" y2="142.1" stroke="rgb(133,133,133)" stroke-width="3.5" stroke-linecap="round"/>
<line x1="511.1" y1="50.0" x2="506.8" y2="64.7" stroke="rgb(120,120,120)" stroke-width="3.3" stroke-linecap="round"/>
<line x1="512.8" y1="141.0" x2="507.4" y2="163.6" stroke="rgb(114,114,114)" stroke-width="4.0" stroke-linecap="round"/>
<line x1="586.8" y1="114.6" x2="594.6" y2="128.0" stroke="rgb(117,117,117)" stroke-width="2.9" stroke-linecap="round"/>
<line x1="624.4" y1="182.7" x2="620.5" y2="194.7" stroke="rgb(117,117,117)" stroke-width="3.1" stroke-linecap="round"/>
<line x1="629.1" y1="148.0" x2="631.9" y2="169.5" stroke="rgb(117,117,117)" stroke-width="2.7" stroke-linecap="round"/>
<line x1="617.3" y1="58.6" x2="619.1" y2="82.7" stroke="rgb(105,105,105)" stroke-width="3.1" stroke-linecap="round"/>
<line x1="597.8" y1="130.3" x2="593.1" y2="147.7" stroke="rgb(134,134,134)" stroke-width="2.5" stroke-linecap="round"/>
<line x1="511.1" y1="138.1" x2="516.1" y2="146.9" stroke="rgb(132,132,132)" stroke-width="3.6" stroke-linecap="round"/>
<line x1="564.7" y1="122.3" x2="557.0" y2="144.5" stroke="rgb(119,119,119)" stroke-width="3.5" stroke-linecap="round"/>
<line x1="573.5" y1="88.7" x2="569.7" y2="103.2" stroke="rgb(111,111,111)" stroke-width="3.8" stroke-linecap="round"/>
<line x1="508.7" y1="79.3" x2="522.3" y2="95.9" stroke="rgb(132,132,132)" stroke-width="3.2" stroke-linecap="round"/>
<rect x="470.4" y="-9.7" width="3.2" height="51.5" fill="rgb(191,191,191)"/>
<circle cx="472.0" cy="-8.7" r="1.8" fill="#d0d0d0"/>
<rect x="470.4" y="46.5" width="3.2" height="53.3" fill="rgb(169,169,169)"/>
<circle cx="472.0" cy="47.5" r="1.8" fill="#d0d0d0"/>
<rect x="470.4" y="106.0" width="3.2" height="38.2" fill="rgb(158,158,158)"/>
<circle cx="472.0" cy="107.0" r="1.8" fill="#d0d0d0"/>
<rect x="470.4" y="146.9" width="3.2" height="42.2" fill="rgb(164,164,164)"/>
<circle cx="472.0" cy="147.9" r="1.8" fill="#d0d0d0"/>
<rect x="470.4" y="189.4" width="3.2" height="43.6" fill="rgb(168,168,168)"/>
<circle cx="472.0" cy="190.4" r="1.8" fill="#d0d0d0"/>
<rect x="481.0" y="13.6" width="3.2" height="35.0" fill="rgb(180,180,180)"/>
<circle cx="482.6" cy="14.6" r="1.8" fill="#d0d0d0"/>
<rect x="481.0" y="49.3" width="3.2" height="44.4" fill="rgb(192,192,192)"/>
<circle cx="482.6" cy="50.3" r="1.8" fill="#d0d0d0"/>
<rect x="481.0" y="95.1" width="3.2" height="41.9" fill="rgb(159,159,159)"/>
<circle cx="482.6" cy="96.1" r="1.8" fill="#d0d0d0"/>
<rect x="481.0" y="141.5" width="3.2" height="50.7" fill="rgb(191,191,191)"/>
<circle cx="482.6" cy="142.5" r="1.8" fill="#d0d0d0"/>
<rect x="491.5" y="8.4" width="3.2" height="41.4" fill="rgb(169,169,169)"/>
<circle cx="493.1" cy="9.4" r="1.8" fill="#d0d0d0"/>
<rect x="491.5" y="52.5" width="3.2" height="49.1" fill="rgb(165,165,165)"/>
<circle cx="493.1" cy="53.5" r="1.8" fill="#d0d0d0"/>
<rect x="491.5" y="106.7" width="3.2" height="45.4" fill="rgb(161,161,161)"/>
<circle cx="493.1" cy="107.7" r="1.8" fill="#d0d0d0"/>
<rect x="491.5" y="153.8" width="3.2" height="39.5" fill="rgb(161,161,161)"/>
<circle cx="493.1" cy="154.8" r="1.8" fill="#d0d0d0"/>
<rect x="491.5" y="193.5" width="3.2" height="40.5" fill="rgb(184,184,184)"/>
<circle cx="493.1" cy="194.5" r="1.8" fill="#d0d0d0"/>
<rect x="502.1" y="6.7" width="3.2" height="44.5" fill="rgb(164,164,164)"/>
<circle cx="503.7" cy="7.7" r="1.8" fill="#d0d0d0"/>
<rect x="502.1" y="52.7" width="3.2" height="48.5" fill="rgb(191,191,191)"/>
<circle cx="503.7" cy="53.7" r="1.8" fill="#d0d0d0"/>
<rect x="502.1" y="108.1" width="3.2" height="54.9" fill="rgb(183,183,183)"/>
<circle cx="503.7" cy="109.1" r="1.8" fill="#d0d0d0"/>
<rect x="502.1" y="166.2" width="3.2" height="34.1" fill="rgb(162,162,162)"/>
<circle cx="503.7" cy="167.2" r="1.8" fill="#d0d0d0"/>
<rect x="512.6" y="5.7" width="3.2" height="41.7" fill="rgb(172,172,172)"/>
<circle cx="514.2" cy="6.7" r="1.8" fill="#d0d0d0"/>
<rect x="512.6" y="53.1" width="3.2" height="33.7" fill="rgb(184,184,184)"/>
<circle cx="514.2" cy="54.1" r="1.8" fill="#d0d0d0"/>
<rect x="512.6" y="90.0" width="3.2" height="37.4" fill="rgb(166,166,166)"/>
<circle cx="514.2" cy="91.0" r="1.8" fill="#d0d0d0"/>
<rect x="512.6" y="132.8" width="3.2" height="41.7" fill="rgb(172,172,172)"/>
<circle cx="514.2" cy="133.8" r="1.8" fill="#d0d0d0"/>
<rect x="512.6" y="176.4" width="3.2" height="39.4" fill="rgb(174,174,174)"/>
<circle cx="514.2" cy="177.4" r="1.8" fill="#d0d0d0"/>
<rect x="523.2" y="6.8" width="3.2" height="42.0" fill="rgb(175,175,175)"/>
<circle cx="524.8" cy="7.8" r="1.8" fill="#d0d0d0"/>
<rect x="523.2" y="51.3" width="3.2" height="46.4" fill="rgb(178,178,178)"/>
<circle cx="524.8" cy="52.3" r="1.8" fill="#d0d0d0"/>
<rect x="523.2" y="101.0" width="3.2" height="40.7" fill="rgb(163,163,163)"/>
<circle cx="524.8" cy="102.0" r="1.8" fill="#d0d0d0"/>
<rect x="523.2" y="146.4" width="3.2" height="39.1" fill="rgb(177,177,177)"/>
<circle cx="524.8" cy="147.4" r="1.8" fill="#d0d0d0"/>
<rect x="523.2" y="191.4" width="3.2" height="31.4" fill="rgb(178,178,178)"/>
<circle cx="524.8" cy="192.4" r="1.8" fill="#d0d0d0"/>
<rect x="533.8" y="-6.7" width="3.2" height="50.8" fill="rgb(158,158,158)"/>
<circle cx="535.4" cy="-5.7" r="1.8" fill="#d0d0d0"/>
<rect x="533.8" y="48.7" width="3.2" height="35.2" fill="rgb(162,162,162)"/>
<circle cx="535.4" cy="49.7" r="1.8" fill="#d0d0d0"/>
<rect x="533.8" y="88.5" width="3.2" height="36.3" fill="rgb(164,164,164)"/>
<circle cx="535.4" cy="89.5" r="1.8" fill="#d0d0d0"/>
<rect x="533.8" y="128.8" width="3.2" height="51.4" fill="rgb(169,169,169)"/>
<circle cx="535.4" cy="129.8" r="1.8" fill="#d0d0d0"/>
<rect x="533.8" y="185.6" width="3.2" height="38.7" fill="rgb(167,167,167)"/>
<circle cx="535.4" cy="186.6" r="1.8" fill="#d0d0d0"/>
<rect x="544.3" y="-0.1" width="3.2" height="43.4" fill="rgb(163,163,163)"/>
<circle cx="545.9" cy="0.9" r="1.8" fill="#d0d0d0"/>
<rect x="544.3" y="47.9" width="3.2" height="52.3" fill="rgb(177,177,177)"/>
<circle cx="545.9" cy="48.9" r="1.8" fill="#d0d0d0"/>
<rect x="544.3" y="101.6" width="3.2" height="47.3" fill="rgb(191,191,191)"/>
<circle cx="545.9" cy="102.6" r="1.8" fill="#d0d0d0"/>
<rect x="544.3" y="149.5" width="3.2" height="51.0" fill="rgb(165,165,165)"/>
<circle cx="545.9" cy="150.5" r="1.8" fill="#d0d0d0"/>
<rect x="554.9" y="-3.6" width="3.2" height="35.9" fill="rgb(166,166,166)"/>
<circle cx="556.5" cy="-2.6" r="1.8" fill="#d0d0d0"/>
<rect x="554.9" y="35.6" width="3.2" height="43.9" fill="rgb(188,188,188)"/>
<circle cx="556.5" cy="36.6" r="1.8" fill="#d0d0d0"/>
<rect x="554.9" y="82.8" width="3.2" height="33.6" fill="rgb(189,189,189)"/>
<circle cx="556.5" cy="83.8" r="1.8" fill="#d0d0d0"/>
<rect x="554.9" y="118.1" width="3.2" height="34.1" fill="rgb(158,158,158)"/>
<circle cx="556.5" cy="119.1" r="1.8" fill="#d0d0d0"/>
<rect x="554.9" y="153.4" width="3.2" height="38.0" fill="rgb(189,189,189)"/>
<circle cx="556.5" cy="154.4" r="1.8" fill="#d0d0d0"/>
<rect x="565.4" y="10.8" width="3.2" height="39.4" fill="rgb(184,184,184)"/>
<circle cx="567.0" cy="11.8" r="1.8" fill="#d0d0d0"/>
<rect x="565.4" y="57.2" width="3.2" height="46.9" fill="rgb(169,169,169)"/>
<circle cx="567.0" cy="58.2" r="1.8" fill="#d0d0d0"/>
<rect x="565.4" y="108.5" width="3.2" height="45.9" fill="rgb(159,159,159)"/>
<circle cx="567.0" cy="109.5" r="1.8" fill="#d0d0d0"/>
<rect x="565.4" y="154.6" width="3.2" height="31.1" fill="rgb(179,179,179)"/>
<circle cx="567.0" cy="155.6" r="1.8" fill="#d0d0d0"/>
<rect x="565.4" y="191.4" width="3.2" height="32.3" fill="rgb(188,188,188)"/>
<circle cx="567.0" cy="192.4" r="1.8" fill="#d0d0d0"/>
<rect x="576.0" y="12.2" width="3.2" height="30.8" fill="rgb(184,184,184)"/>
<circle cx="577.6" cy="13.2" r="1.8" fill="#d0d0d0"/>
<rect x="576.0" y="47.5" width="3.2" height="38.5" fill="rgb(181,181,181)"/>
<circle cx="577.6" cy="48.5" r="1.8" fill="#d0d0d0"/>
<rect x="576.0" y="88.3" width="3.2" height="49.5" fill="rgb(171,171,171)"/>
<circle cx="577.6" cy="89.3" r="1.8" fill="#d0d0d0"/>
<rect x="576.0" y="139.8" width="3.2" height="38.5" fill="rgb(174,174,174)"/>
<circle cx="577.6" cy="140.8" r="1.8" fill="#d0d0d0"/>
<rect x="576.0" y="182.2" width="3.2" height="50.7" fill="rgb(176,176,176)"/>
<circle cx="577.6" cy="183.2" r="1.8" fill="#d0d0d0"/>
<rect x="586.6" y="2.1" width="3.2" height="38.3" fill="rgb(175,175,175)"/>
<circle cx="588.2" cy="3.1" r="1.8" fill="#d0d0d0"/>
<rect x="586.6" y="46.6" width="3.2" height="38.6" fill="rgb(171,171,171)"/>
<circle cx="588.2" cy="47.6" r="1.8" fill="#d0d0d0"/>
<rect x="586.6" y="89.8" width="3.2" height="49.8" fill="rgb(179,179,179)"/>
<circle cx="588.2" cy="90.8" r="1.8" fill="#d0d0d0"/>
<rect x="586.6" y="140.9" width="3.2" height="47.8" fill="rgb(166,166,166)"/>
<circle cx="588.2" cy="141.9" r="1.8" fill="#d0d0d0"/>
<rect x="586.6" y="192.9" width="3.2" height="45.9" fill="rgb(160,160,160)"/>
<circle cx="588.2" cy="193.9" r="1.8" fill="#d0d0d0"/>
<rect x="597.1" y="3.7" width="3.2" height="40.2" fill="rgb(161,161,161)"/>
<circle cx="598.7" cy="4.7" r="1.8" fill="#d0d0d0"/>
<rect x="597.1" y="46.6" width="3.2" height="32.7" fill="rgb(160,160,160)"/>
<circle cx="598.7" cy="47.6" r="1.8" fill="#d0d0d0"/>
<rect x="597.1" y="80.6" width="3.2" height="53.0" fill="rgb(161,161,161)"/>
<circle cx="598.7" cy="81.6" r="1.8" fill="#d0d0d0"/>
<rect x="597.1" y="139.2" width="3.2" height="52.7" fill="rgb(182,182,182)"/>
<circle cx="598.7" cy="140.2" r="1.8" fill="#d0d0d0"/>
<rect x="607.7" y="5.5" width="3.2" height="47.4" fill="rgb(163,163,163)"/>
<circle cx="609.3" cy="6.5" r="1.8" fill="#d0d0d0"/>
<rect x="607.7" y="54.4" width="3.2" height="46.7" fill="rgb(187,187,187)"/>
<circle cx="609.3" cy="55.4" r="1.8" fill="#d0d0d0"/>
<rect x="607.7" y="105.4" width="3.2" height="34.3" fill="rgb(169,169,169)"/>
<circle cx="609.3" cy="106.4" r="1.8" fill="#d0d0d0"/>
<rect x="607.7" y="145.9" width="3.2" height="40.5" fill="rgb(164,164,164)"/>
<circle cx="609.3" cy="146.9" r="1.8" fill="#d0d0d0"/>
<rect x="607.7" y="192.8" width="3.2" height="46.4" fill="rgb(181,181,181)"/>
<circle cx="609.3" cy="193.8" r="1.8" fill="#d0d0d0"/>
<rect x="618.2" y="-6.7" width="3.2" height="37.7" fill="rgb(174,174,174)"/>
<circle cx="619.8" cy="-5.7" r="1.8" fill="#d0d0d0"/>
<rect x="618.2" y="37.0" width="3.2" height="34.6" fill="rgb(160,160,160)"/>
<circle cx="619.8" cy="38.0" r="1.8" fill="#d0d0d0"/>
<rect x="618.2" y="73.9" width="3.2" height="40.8" fill="rgb(161,161,161)"/>
<circle cx="619.8" cy="74.9" r="1.8" fill="#d0d0d0"/>
<rect x="618.2" y="118.1" width="3.2" height="43.1" fill="rgb(165,165,165)"/>
<circle cx="619.8" cy="119.1" r="1.8" fill="#d0d0d0"/>
<rect x="618.2" y="166.6" width="3.2" height="40.5" fill="rgb(183,183,183)"/>
<circle cx="619.8" cy="167.6" r="1.8" fill="#d0d0d0"/>
<rect x="628.8" y="-9.8" width="3.2" height="39.7" fill="rgb(167,167,167)"/>
<circle cx="630.4" cy="-8.8" r="1.8" fill="#d0d0d0"/>
<rect x="628.8" y="33.2" width="3.2" height="40.3" fill="rgb(164,164,164)"/>
<circle cx="630.4" cy="34.2" r="1.8" fill="#d0d0d0"/>
<rect x="628.8" y="74.1" width="3.2" height="41.8" fill="rgb(167,167,167)"/>
<circle cx="630.4" cy="75.1" r="1.8" fill="#d0d0d0"/>
<rect x="628.8" y="120.2" width="3.2" height="40.7" fill="rgb(158,158,158)"/>
<circle cx="630.4" cy="121.2" r="1.8" fill="#d0d0d0"/>
<rect x="628.8" y="165.7" width="3.2" height="33.0" fill="rgb(163,163,163)"/>
<circle cx="630.4" cy="166.7" r="1.8" fill="#d0d0d0"/>
</g>
<rect x="471.0" y="180.0" width="88.1" height="11.9" fill="#000"/>
<rect x="489.1" y="185.1" width="52.8" height="2.3" fill="#f4f4f4" filter="url(#soft)"/>
</g></g>
<g>
<rect x="103.1" y="612.9" width="172.3" height="192.8" rx="2.5" fill="#2b81f6"/>
<clipPath id="cp4"><rect x="108.0" y="617.8" width="162.5" height="183.0"/></clipPath>
<g clip-path="url(#cp4)">
<rect x="107.0" y="616.8" width="164.5" height="185.0000000000001" fill="#5a5a5a"/>
<g filter="url(#b1)">
<polygon points="168.2,714.9 162.7,716.5 163.2,712.1" fill="rgb(157,157,157)" stroke="rgb(157,157,157)" stroke-width="1.5" stroke-linejoin="round"/>
<polygon points="147.0,717.7 149.8,723.7 144.7,723.9" fill="rgb(165,165,165)" stroke="rgb(165,165,165)" stroke-width="1.5" stroke-linejoin="round"/>
<polygon points="204.7,725.7 207.3,731.6 202.3,731.7" fill="rgb(153,153,153)" stroke="rgb(153,153,153)" stroke-width="1.5" stroke-linejoin="round"/>
<polygon points="225.0,723.6 217.6,722.7 220.5,717.7" fill="rgb(159,159,159)" stroke="rgb(159,159,159)" stroke-width="1.5" stroke-linejoin="round"/>
<polygon points="237.7,721.0 243.6,716.5 245.1,722.1" fill="rgb(185,185,185)" stroke="rgb(185,185,185)" stroke-width="1.5" stroke-linejoin="round"/>
<polygon points="269.0,721.5 261.0,722.1 263.0,716.2" fill="rgb(166,166,166)" stroke="rgb(166,166,166)" stroke-width="1.5" stroke-linejoin="round"/>
<polygon points="205.9,746.2 200.8,747.9 201.2,743.7" fill="rgb(152,152,152)" stroke="rgb(152,152,152)" stroke-width="1.5" stroke-linejoin="round"/>
<polygon points="227.9,747.5 227.9,741.0 232.5,742.9" fill="rgb(155,155,155)" stroke="rgb(155,155,155)" stroke-width="1.5" stroke-linejoin="round"/>
<polygon points="243.0,748.9 241.9,756.9 236.5,753.7" fill="rgb(160,160,160)" stroke="rgb(160,160,160)" stroke-width="1.5" stroke-linejoin="round"/>
<polygon points="262.6,753.6 257.9,757.8 256.3,753.2" fill="rgb(153,153,153)" stroke="rgb(153,153,153)" stroke-width="1.5" stroke-linejoin="round"/>
<polygon points="169.2,770.9 163.8,766.8 168.3,764.2" fill="rgb(178,178,178)" stroke="rgb(178,178,178)" stroke-width="1.5" stroke-linejoin="round"/>
<polygon points="188.9,771.2 194.5,774.3 190.6,777.3" fill="rgb(157,157,157)" stroke="rgb(157,157,157)" stroke-width="1.5" stroke-linejoin="round"/>
<polygon points="144.1,772.7 145.6,779.2 140.4,778.3" fill="rgb(176,176,176)" stroke="rgb(176,176,176)" stroke-width="1.5" stroke-linejoin="round"/>
<polygon points="172.0,773.1 173.4,781.0 167.3,779.7" fill="rgb(178,178,178)" stroke="rgb(178,178,178)" stroke-width="1.5" stroke-linejoin="round"/>
<polygon points="130.3,751.4 124.1,751.5 125.9,747.1" fill="rgb(171,171,171)" stroke="rgb(171,171,171)" stroke-width="1.5" stroke-linejoin="round"/>
<polygon points="215.7,782.3 219.8,789.0 213.8,790.0" fill="rgb(171,171,171)" stroke="rgb(171,171,171)" stroke-width="1.5" stroke-linejoin="round"/>
<polygon points="212.2,625.2 219.7,627.0 216.2,631.8" fill="rgb(150,150,150)" stroke="rgb(150,150,150)" stroke-width="1.5" stroke-linejoin="round"/>
<polygon points="174.3,649.9 168.3,653.6 167.5,648.2" fill="rgb(169,169,169)" stroke="rgb(169,169,169)" stroke-width="1.5" stroke-linejoin="round"/>
<polygon points="165.0,666.2 169.7,670.6 165.1,672.6" fill="rgb(165,165,165)" stroke="rgb(165,165,165)" stroke-width="1.5" stroke-linejoin="round"/>
<polygon points="133.0,669.0 131.5,661.4 137.4,662.7" fill="rgb(164,164,164)" stroke="rgb(164,164,164)" stroke-width="1.5" stroke-linejoin="round"/>
<polygon points="137.5,683.8 135.8,677.8 140.6,678.3" fill="rgb(150,150,150)" stroke="rgb(150,150,150)" stroke-width="1.5" stroke-linejoin="round"/>
<polygon points="242.1,657.9 242.0,665.0 237.0,662.8" fill="rgb(160,160,160)" stroke="rgb(160,160,160)" stroke-width="1.5" stroke-linejoin="round"/>
<polygon points="231.1,676.2 225.6,673.4 229.3,670.3" fill="rgb(152,152,152)" stroke="rgb(152,152,152)" stroke-width="1.5" stroke-linejoin="round"/>
<polygon points="249.2,672.1 247.8,678.0 243.9,675.2" fill="rgb(159,159,159)" stroke="rgb(159,159,159)" stroke-width="1.5" stroke-linejoin="round"/>
<polygon points="209.2,655.8 204.9,661.8 201.9,656.9" fill="rgb(185,185,185)" stroke="rgb(185,185,185)" stroke-width="1.5" stroke-linejoin="round"/>
<polygon points="166.1,692.7 172.9,691.6 171.6,696.8" fill="rgb(172,172,172)" stroke="rgb(172,172,172)" stroke-width="1.5" stroke-linejoin="round"/>
<polygon points="239.1,702.9 234.2,697.1 239.8,695.2" fill="rgb(181,181,181)" stroke="rgb(181,181,181)" stroke-width="1.5" stroke-linejoin="round"/>
<polygon points="115.9,677.1 109.7,677.3 111.4,672.8" fill="rgb(164,164,164)" stroke="rgb(164,164,164)" stroke-width="1.5" stroke-linejoin="round"/>
<polygon points="160.2,680.0 156.1,674.8 161.1,673.4" fill="rgb(175,175,175)" stroke="rgb(175,175,175)" stroke-width="1.5" stroke-linejoin="round"/>
<polygon points="266.0,630.0 259.3,632.3 259.7,626.9" fill="rgb(166,166,166)" stroke="rgb(166,166,166)" stroke-width="1.5" stroke-linejoin="round"/>
<polygon points="194.4,641.3 187.8,640.3 190.5,635.9" fill="rgb(174,174,174)" stroke="rgb(174,174,174)" stroke-width="1.5" stroke-linejoin="round"/>
<line x1="109.8" y1="619.2" x2="109.8" y2="714.0" stroke="rgb(239,239,239)" stroke-width="2.7"/>
<line x1="120.2" y1="640.2" x2="120.2" y2="714.0" stroke="rgb(230,230,230)" stroke-width="2.7"/>
<line x1="132.8" y1="619.2" x2="132.8" y2="648.0" stroke="rgb(235,235,235)" stroke-width="2.7"/>
<line x1="145.9" y1="619.2" x2="145.9" y2="689.9" stroke="rgb(240,240,240)" stroke-width="2.7"/>
<line x1="156.4" y1="619.2" x2="156.4" y2="663.7" stroke="rgb(244,244,244)" stroke-width="2.7"/>
<line x1="180.4" y1="619.2" x2="180.4" y2="708.2" stroke="rgb(236,236,236)" stroke-width="2.7"/>
<line x1="191.7" y1="629.7" x2="191.7" y2="687.3" stroke="rgb(244,244,244)" stroke-width="2.7"/>
<line x1="204.8" y1="619.2" x2="204.8" y2="645.4" stroke="rgb(238,238,238)" stroke-width="2.7"/>
<line x1="204.8" y1="672.9" x2="204.8" y2="700.4" stroke="rgb(243,243,243)" stroke-width="2.7"/>
<line x1="216.6" y1="648.0" x2="216.6" y2="710.9" stroke="rgb(244,244,244)" stroke-width="2.7"/>
<line x1="251.9" y1="619.2" x2="251.9" y2="655.9" stroke="rgb(234,234,234)" stroke-width="2.7"/>
<line x1="251.9" y1="676.8" x2="251.9" y2="703.0" stroke="rgb(234,234,234)" stroke-width="2.7"/>
<line x1="263.7" y1="619.2" x2="263.7" y2="700.4" stroke="rgb(234,234,234)" stroke-width="2.7"/>
<line x1="228.3" y1="692.5" x2="228.3" y2="714.0" stroke="rgb(234,234,234)" stroke-width="2.7"/>
<line x1="109.2" y1="704.0" x2="109.2" y2="804.0" stroke="rgb(230,230,230)" stroke-width="2.7"/>
<line x1="120.2" y1="704.0" x2="120.2" y2="719.7" stroke="rgb(233,233,233)" stroke-width="2.7"/>
<line x1="120.2" y1="730.2" x2="120.2" y2="787.8" stroke="rgb(237,237,237)" stroke-width="2.7"/>
<line x1="132.8" y1="748.5" x2="132.8" y2="787.8" stroke="rgb(239,239,239)" stroke-width="2.7"/>
<line x1="145.9" y1="727.6" x2="145.9" y2="756.4" stroke="rgb(239,239,239)" stroke-width="2.7"/>
<line x1="156.4" y1="704.0" x2="156.4" y2="719.7" stroke="rgb(240,240,240)" stroke-width="2.7"/>
<line x1="168.1" y1="730.2" x2="168.1" y2="764.2" stroke="rgb(244,244,244)" stroke-width="2.7"/>
<line x1="180.4" y1="719.7" x2="180.4" y2="787.8" stroke="rgb(232,232,232)" stroke-width="2.7"/>
<line x1="193.0" y1="704.0" x2="193.0" y2="732.8" stroke="rgb(235,235,235)" stroke-width="2.7"/>
<line x1="204.8" y1="751.1" x2="204.8" y2="804.0" stroke="rgb(229,229,229)" stroke-width="2.7"/>
<line x1="216.6" y1="717.1" x2="216.6" y2="743.3" stroke="rgb(243,243,243)" stroke-width="2.7"/>
<line x1="227.0" y1="704.0" x2="227.0" y2="717.1" stroke="rgb(239,239,239)" stroke-width="2.7"/>
<line x1="227.0" y1="764.2" x2="227.0" y2="804.0" stroke="rgb(231,231,231)" stroke-width="2.7"/>
<line x1="240.1" y1="769.4" x2="240.1" y2="804.0" stroke="rgb(239,239,239)" stroke-width="2.7"/>
<line x1="252.4" y1="753.7" x2="252.4" y2="777.3" stroke="rgb(242,242,242)" stroke-width="2.7"/>
<line x1="263.7" y1="772.1" x2="263.7" y2="804.0" stroke="rgb(230,230,230)" stroke-width="2.7"/>
<line x1="268.9" y1="774.7" x2="268.9" y2="804.0" stroke="rgb(232,232,232)" stroke-width="2.7"/>
<line x1="126.3" y1="625.8" x2="156.4" y2="617.9" stroke="#e8e8e8" stroke-width="2.4" stroke-linecap="round"/>
<line x1="182.5" y1="621.9" x2="195.6" y2="689.9" stroke="#e8e8e8" stroke-width="2.4" stroke-linecap="round"/>
<line x1="155.0" y1="621.9" x2="147.2" y2="661.1" stroke="#e8e8e8" stroke-width="2.4" stroke-linecap="round"/>
<line x1="109.2" y1="634.9" x2="123.6" y2="663.7" stroke="#e8e8e8" stroke-width="2.4" stroke-linecap="round"/>
<line x1="234.9" y1="619.2" x2="227.0" y2="663.7" stroke="#e8e8e8" stroke-width="2.4" stroke-linecap="round"/>
<line x1="228.3" y1="638.9" x2="268.9" y2="661.1" stroke="#e8e8e8" stroke-width="2.4" stroke-linecap="round"/>
<line x1="268.9" y1="661.1" x2="261.1" y2="679.4" stroke="#e8e8e8" stroke-width="2.4" stroke-linecap="round"/>
<line x1="126.3" y1="689.9" x2="173.4" y2="687.3" stroke="#e8e8e8" stroke-width="2.4" stroke-linecap="round"/>
<line x1="111.9" y1="644.1" x2="156.4" y2="642.8" stroke="#e8e8e8" stroke-width="2.4" stroke-linecap="round"/>
<line x1="203.5" y1="692.5" x2="190.4" y2="714.0" stroke="#e8e8e8" stroke-width="2.4" stroke-linecap="round"/>
<line x1="159.0" y1="743.3" x2="193.0" y2="704.0" stroke="#e8e8e8" stroke-width="2.4" stroke-linecap="round"/>
<line x1="109.2" y1="711.9" x2="138.0" y2="727.6" stroke="#e8e8e8" stroke-width="2.4" stroke-linecap="round"/>
<line x1="211.3" y1="800.9" x2="242.7" y2="774.7" stroke="#e8e8e8" stroke-width="2.4" stroke-linecap="round"/>
<line x1="114.5" y1="757.7" x2="156.4" y2="756.4" stroke="#e8e8e8" stroke-width="2.4" stroke-linecap="round"/>
<line x1="114.5" y1="732.8" x2="132.8" y2="732.8" stroke="#e8e8e8" stroke-width="2.4" stroke-linecap="round"/>
</g>
<rect x="112.3" y="787.5" width="91.3" height="16.1" fill="#000"/>
<rect x="131.5" y="793.7" width="53.4" height="2.3" fill="#f4f4f4" filter="url(#soft)"/>
</g></g>
<g>
<rect x="285.6" y="613.7" width="173.2" height="192.3" rx="2.5" fill="#44ba76"/>
<clipPath id="cp5"><rect x="290.5" y="618.6" width="163.4" height="182.5"/></clipPath>
<g clip-path="url(#cp5)">
<rect x="289.5" y="617.6" width="165.40000000000003" height="184.5" fill="#494949"/>
<g filter="url(#b1)">
<polygon points="292.9,618.1 287.3,622.3 282.2,619.2 283.2,612.2 289.7,611.7" fill="rgb(104,104,104)" stroke="rgb(146,146,146)" stroke-width="1.1"/>
<polygon points="304.9,616.9 302.0,620.5 296.9,618.4 297.9,612.9 303.6,612.1" fill="rgb(102,102,102)" stroke="rgb(144,144,144)" stroke-width="1.1"/>
<polygon points="322.9,625.1 317.4,625.7 314.6,621.2 314.5,616.4 320.2,614.6 325.7,616.3 326.1,621.4" fill="rgb(124,124,124)" stroke="rgb(166,166,166)" stroke-width="1.1"/>
<polygon points="328.1,610.5 333.9,611.7 335.8,616.1 332.7,620.9 327.7,620.1 325.5,615.4" fill="rgb(100,100,100)" stroke="rgb(142,142,142)" stroke-width="1.1"/>
<polygon points="355.7,622.9 352.0,625.7 347.6,623.6 348.2,619.3 351.7,616.0 355.2,618.9" fill="rgb(103,103,103)" stroke="rgb(145,145,145)" stroke-width="1.1"/>
<polygon points="356.8,614.9 358.9,612.7 362.0,613.2 364.6,615.9 362.7,619.2 359.7,621.0 357.2,618.9" fill="rgb(101,101,101)" stroke="rgb(143,143,143)" stroke-width="1.1"/>
<polygon points="384.0,626.2 378.7,626.7 375.2,623.4 376.1,618.5 380.8,616.3 385.7,620.6" fill="rgb(120,120,120)" stroke="rgb(162,162,162)" stroke-width="1.1"/>
<polygon points="406.7,619.8 403.1,618.9 401.9,615.3 403.5,611.9 407.3,613.1 408.5,616.2" fill="rgb(115,115,115)" stroke="rgb(157,157,157)" stroke-width="1.1"/>
<polygon points="414.1,613.4 418.4,610.3 423.6,613.4 423.7,618.3 418.4,622.0 413.6,618.0" fill="rgb(124,124,124)" stroke="rgb(166,166,166)" stroke-width="1.1"/>
<polygon points="443.0,617.8 439.9,620.7 435.0,620.4 434.9,615.8 437.3,612.1 441.9,613.2" fill="rgb(127,127,127)" stroke="rgb(169,169,169)" stroke-width="1.1"/>
<polygon points="447.3,617.3 447.6,612.2 451.4,608.8 455.8,611.1 458.1,615.9 454.7,621.0 449.9,620.3" fill="rgb(126,126,126)" stroke="rgb(168,168,168)" stroke-width="1.1"/>
<polygon points="295.3,636.8 293.2,631.1 298.1,626.6 302.7,631.3 301.9,637.4" fill="rgb(107,107,107)" stroke="rgb(149,149,149)" stroke-width="1.1"/>
<polygon points="313.7,631.2 313.8,637.1 308.0,637.9 302.8,634.7 305.1,629.6 310.4,627.1" fill="rgb(126,126,126)" stroke="rgb(168,168,168)" stroke-width="1.1"/>
<polygon points="326.6,641.5 323.4,634.9 327.9,631.1 333.4,633.5 332.8,639.6" fill="rgb(121,121,121)" stroke="rgb(163,163,163)" stroke-width="1.1"/>
<polygon points="377.8,637.2 372.8,641.1 367.2,638.6 368.4,632.4 375.0,631.5" fill="rgb(101,101,101)" stroke="rgb(143,143,143)" stroke-width="1.1"/>
<polygon points="386.7,636.2 382.9,638.0 378.8,636.2 379.2,631.8 383.0,629.2 386.3,631.7" fill="rgb(122,122,122)" stroke="rgb(164,164,164)" stroke-width="1.1"/>
<polygon points="404.3,626.7 406.3,631.2 402.5,634.7 397.8,636.2 394.9,631.7 396.3,626.2 400.2,624.9" fill="rgb(108,108,108)" stroke="rgb(150,150,150)" stroke-width="1.1"/>
<polygon points="411.7,629.2 416.2,625.3 422.2,627.3 423.4,632.8 418.8,637.0 412.4,634.7" fill="rgb(121,121,121)" stroke="rgb(163,163,163)" stroke-width="1.1"/>
<polygon points="428.9,627.0 434.9,631.0 433.5,638.8 426.7,639.3 424.6,632.0" fill="rgb(118,118,118)" stroke="rgb(160,160,160)" stroke-width="1.1"/>
<polygon points="465.3,625.7 466.6,631.2 462.7,635.1 457.0,634.2 455.4,628.4 459.1,623.3" fill="rgb(115,115,115)" stroke="rgb(157,157,157)" stroke-width="1.1"/>
<polygon points="283.5,644.6 287.6,641.5 293.1,641.9 295.7,647.0 292.4,652.2 287.7,651.7 283.4,649.3" fill="rgb(117,117,117)" stroke="rgb(159,159,159)" stroke-width="1.1"/>
<polygon points="301.5,654.0 300.5,649.4 302.8,645.9 307.1,646.1 310.1,649.3 309.5,654.1 305.4,655.7" fill="rgb(114,114,114)" stroke="rgb(156,156,156)" stroke-width="1.1"/>
<polygon points="325.2,653.0 318.4,651.4 318.4,644.6 323.5,641.1 329.2,646.1" fill="rgb(113,113,113)" stroke="rgb(155,155,155)" stroke-width="1.1"/>
<polygon points="331.0,651.5 330.9,647.0 334.1,644.4 338.2,647.2 337.4,651.4 334.3,654.2" fill="rgb(112,112,112)" stroke="rgb(154,154,154)" stroke-width="1.1"/>
<polygon points="349.7,643.0 353.4,645.6 352.8,649.3 350.7,651.6 346.8,651.7 345.6,648.3 345.6,644.8" fill="rgb(114,114,114)" stroke="rgb(156,156,156)" stroke-width="1.1"/>
<polygon points="367.7,645.9 364.2,646.9 361.1,643.7 363.4,640.4 367.0,640.1 369.0,642.6" fill="rgb(124,124,124)" stroke="rgb(166,166,166)" stroke-width="1.1"/>
<polygon points="379.5,650.9 374.7,651.5 372.9,646.0 377.3,642.4 382.1,646.6" fill="rgb(121,121,121)" stroke="rgb(163,163,163)" stroke-width="1.1"/>
<polygon points="399.0,644.9 395.8,648.2 392.4,649.3 389.5,645.7 390.1,641.4 393.4,639.5 397.7,641.3" fill="rgb(111,111,111)" stroke="rgb(153,153,153)" stroke-width="1.1"/>
<polygon points="410.5,647.3 407.4,650.9 403.9,650.3 400.4,647.3 402.0,643.0 405.6,642.2 409.1,643.1" fill="rgb(112,112,112)" stroke="rgb(154,154,154)" stroke-width="1.1"/>
<polygon points="422.4,649.3 417.4,647.8 416.3,643.0 421.0,640.4 425.8,642.2 427.0,646.6" fill="rgb(116,116,116)" stroke="rgb(158,158,158)" stroke-width="1.1"/>
<polygon points="450.5,651.9 448.4,649.4 449.6,645.4 453.2,645.0 455.6,648.2 454.2,651.4" fill="rgb(109,109,109)" stroke="rgb(151,151,151)" stroke-width="1.1"/>
<polygon points="315.4,654.5 318.1,657.6 318.2,661.7 316.0,664.1 311.9,663.9 309.4,660.1 310.9,656.5" fill="rgb(120,120,120)" stroke="rgb(162,162,162)" stroke-width="1.1"/>
<polygon points="335.4,663.9 335.3,659.1 340.8,657.2 343.8,661.6 340.4,665.3" fill="rgb(115,115,115)" stroke="rgb(157,157,157)" stroke-width="1.1"/>
<polygon points="357.9,657.7 358.3,663.9 352.8,665.8 348.1,662.7 348.8,657.3 354.1,654.0" fill="rgb(111,111,111)" stroke="rgb(153,153,153)" stroke-width="1.1"/>
<polygon points="365.9,667.7 362.2,664.0 362.8,658.7 367.7,657.2 371.2,660.8 370.6,665.3" fill="rgb(116,116,116)" stroke="rgb(158,158,158)" stroke-width="1.1"/>
<polygon points="388.5,664.8 384.6,663.9 381.6,660.3 384.8,657.2 389.2,657.3 391.4,660.7" fill="rgb(115,115,115)" stroke="rgb(157,157,157)" stroke-width="1.1"/>
<polygon points="395.5,655.7 400.3,657.3 402.1,661.6 398.5,666.2 393.4,664.0 391.2,659.6" fill="rgb(112,112,112)" stroke="rgb(154,154,154)" stroke-width="1.1"/>
<polygon points="415.7,660.1 411.4,663.2 406.4,661.9 405.9,657.6 409.3,654.2 413.3,655.6" fill="rgb(124,124,124)" stroke="rgb(166,166,166)" stroke-width="1.1"/>
<polygon points="434.4,662.8 429.2,665.0 425.6,661.6 425.3,655.5 431.0,653.3 434.8,657.4" fill="rgb(104,104,104)" stroke="rgb(146,146,146)" stroke-width="1.1"/>
<polygon points="440.5,664.2 435.8,662.8 434.0,659.2 436.9,656.1 441.0,656.0 442.7,660.2" fill="rgb(117,117,117)" stroke="rgb(159,159,159)" stroke-width="1.1"/>
<polygon points="455.8,656.8 460.2,654.0 464.3,657.8 461.7,661.7 457.2,661.7" fill="rgb(102,102,102)" stroke="rgb(144,144,144)" stroke-width="1.1"/>
<polygon points="305.0,672.2 306.5,677.0 302.1,681.2 297.4,677.0 299.7,672.4" fill="rgb(122,122,122)" stroke="rgb(164,164,164)" stroke-width="1.1"/>
<polygon points="322.2,671.2 323.1,676.5 318.6,679.0 314.3,677.1 313.3,671.4 317.7,667.9" fill="rgb(112,112,112)" stroke="rgb(154,154,154)" stroke-width="1.1"/>
<polygon points="332.1,674.5 335.7,673.1 338.9,675.8 337.9,680.0 334.4,680.6 330.9,678.5" fill="rgb(102,102,102)" stroke="rgb(144,144,144)" stroke-width="1.1"/>
<polygon points="359.2,676.5 362.9,672.7 367.3,675.7 368.4,679.9 363.9,682.9 360.0,681.0" fill="rgb(117,117,117)" stroke="rgb(159,159,159)" stroke-width="1.1"/>
<polygon points="381.4,671.1 382.5,678.0 377.8,682.6 371.5,678.0 374.0,671.5" fill="rgb(114,114,114)" stroke="rgb(156,156,156)" stroke-width="1.1"/>
<polygon points="392.0,665.2 395.7,669.2 396.7,673.9 393.0,677.3 387.9,677.5 385.1,672.5 386.7,666.8" fill="rgb(118,118,118)" stroke="rgb(160,160,160)" stroke-width="1.1"/>
<polygon points="422.2,668.5 426.2,674.6 420.8,678.5 414.3,675.8 415.6,668.9" fill="rgb(103,103,103)" stroke="rgb(145,145,145)" stroke-width="1.1"/>
<polygon points="451.0,669.3 452.4,674.6 448.4,678.4 442.7,675.4 444.1,669.4" fill="rgb(104,104,104)" stroke="rgb(146,146,146)" stroke-width="1.1"/>
<polygon points="300.0,690.8 299.3,696.4 294.2,698.8 291.0,694.2 290.7,688.5 296.6,687.0" fill="rgb(105,105,105)" stroke="rgb(147,147,147)" stroke-width="1.1"/>
<polygon points="307.6,690.9 306.6,684.0 312.0,679.5 318.1,685.0 314.9,692.5" fill="rgb(110,110,110)" stroke="rgb(152,152,152)" stroke-width="1.1"/>
<polygon points="336.0,681.6 342.0,681.1 345.5,685.7 340.3,689.9 335.7,687.0" fill="rgb(117,117,117)" stroke="rgb(159,159,159)" stroke-width="1.1"/>
<polygon points="349.3,690.3 347.1,684.0 352.7,681.6 357.5,684.9 354.8,690.6" fill="rgb(111,111,111)" stroke="rgb(153,153,153)" stroke-width="1.1"/>
<polygon points="376.3,683.5 377.8,689.2 373.1,692.1 368.0,691.6 366.1,685.6 370.6,681.2" fill="rgb(105,105,105)" stroke="rgb(147,147,147)" stroke-width="1.1"/>
<polygon points="385.2,692.7 381.9,694.5 378.1,692.8 376.9,688.2 381.3,685.2 385.9,688.0" fill="rgb(105,105,105)" stroke="rgb(147,147,147)" stroke-width="1.1"/>
<polygon points="397.4,688.4 393.6,687.6 393.5,682.9 396.8,680.9 400.0,682.7 400.3,686.3" fill="rgb(126,126,126)" stroke="rgb(168,168,168)" stroke-width="1.1"/>
<polygon points="409.0,682.7 414.4,681.7 416.7,686.7 412.5,689.8 408.8,687.3" fill="rgb(101,101,101)" stroke="rgb(143,143,143)" stroke-width="1.1"/>
<polygon points="447.5,689.2 449.8,693.0 447.3,696.9 443.0,696.6 440.9,694.0 440.5,689.7 444.1,687.9" fill="rgb(111,111,111)" stroke="rgb(153,153,153)" stroke-width="1.1"/>
<polygon points="458.4,695.1 453.4,691.8 452.4,686.8 457.0,683.2 462.2,685.9 462.8,691.0" fill="rgb(108,108,108)" stroke="rgb(150,150,150)" stroke-width="1.1"/>
<polygon points="301.7,708.0 301.7,703.1 305.8,700.5 310.5,702.2 310.8,706.9 306.8,710.2" fill="rgb(127,127,127)" stroke="rgb(169,169,169)" stroke-width="1.1"/>
<polygon points="310.7,700.7 311.6,694.7 317.7,693.7 322.8,697.1 321.6,701.8 315.8,705.4" fill="rgb(121,121,121)" stroke="rgb(163,163,163)" stroke-width="1.1"/>
<polygon points="335.3,701.6 334.3,705.5 331.1,707.5 327.4,706.9 325.4,702.7 327.4,699.4 332.1,699.0" fill="rgb(127,127,127)" stroke="rgb(169,169,169)" stroke-width="1.1"/>
<polygon points="349.8,710.4 346.1,707.4 347.3,703.3 351.5,702.0 355.2,705.0 354.3,708.9" fill="rgb(124,124,124)" stroke="rgb(166,166,166)" stroke-width="1.1"/>
<polygon points="360.6,698.7 365.4,699.1 366.4,702.6 364.1,706.3 360.0,705.4 358.4,701.6" fill="rgb(121,121,121)" stroke="rgb(163,163,163)" stroke-width="1.1"/>
<polygon points="381.8,709.6 378.2,709.5 376.6,705.5 379.3,703.3 383.6,704.0 383.9,707.4" fill="rgb(104,104,104)" stroke="rgb(146,146,146)" stroke-width="1.1"/>
<polygon points="382.3,699.3 387.5,694.3 393.3,697.8 391.2,703.6 385.3,704.2" fill="rgb(108,108,108)" stroke="rgb(150,150,150)" stroke-width="1.1"/>
<polygon points="432.9,707.2 430.4,702.3 434.1,697.5 439.4,701.1 438.0,706.5" fill="rgb(112,112,112)" stroke="rgb(154,154,154)" stroke-width="1.1"/>
<polygon points="453.2,699.0 453.6,703.9 449.7,706.9 444.5,705.0 444.3,700.0 448.5,697.6" fill="rgb(122,122,122)" stroke="rgb(164,164,164)" stroke-width="1.1"/>
<polygon points="305.4,719.2 306.6,714.2 311.8,712.6 315.4,716.1 314.8,721.9 309.4,722.1" fill="rgb(116,116,116)" stroke="rgb(158,158,158)" stroke-width="1.1"/>
<polygon points="331.7,717.5 331.6,721.7 327.6,723.4 324.1,721.4 324.9,716.8 327.9,715.6" fill="rgb(105,105,105)" stroke="rgb(147,147,147)" stroke-width="1.1"/>
<polygon points="341.9,720.0 336.2,720.1 333.5,715.3 333.7,710.4 338.9,707.6 343.3,710.5 345.0,715.3" fill="rgb(109,109,109)" stroke="rgb(151,151,151)" stroke-width="1.1"/>
<polygon points="346.2,718.0 348.1,711.3 356.1,710.9 358.3,717.5 352.2,721.7" fill="rgb(112,112,112)" stroke="rgb(154,154,154)" stroke-width="1.1"/>
<polygon points="368.9,717.5 366.4,713.3 367.6,709.1 372.0,709.0 374.3,711.7 373.1,716.4" fill="rgb(101,101,101)" stroke="rgb(143,143,143)" stroke-width="1.1"/>
<polygon points="378.1,715.1 378.9,710.1 382.5,707.1 387.8,707.9 389.4,713.0 386.6,718.1 382.4,718.4" fill="rgb(112,112,112)" stroke="rgb(154,154,154)" stroke-width="1.1"/>
<polygon points="403.6,724.0 396.8,725.1 392.2,719.6 397.7,714.5 403.2,716.4" fill="rgb(100,100,100)" stroke="rgb(142,142,142)" stroke-width="1.1"/>
<polygon points="411.3,714.4 414.8,712.3 418.0,712.9 418.7,716.9 416.2,719.8 412.9,718.6" fill="rgb(122,122,122)" stroke="rgb(164,164,164)" stroke-width="1.1"/>
<polygon points="437.3,716.9 433.5,721.6 428.1,721.1 424.2,717.1 428.2,712.4 433.4,711.4" fill="rgb(117,117,117)" stroke="rgb(159,159,159)" stroke-width="1.1"/>
<polygon points="449.0,714.1 449.7,718.9 446.8,722.5 442.6,721.5 441.1,717.1 444.2,713.2" fill="rgb(106,106,106)" stroke="rgb(148,148,148)" stroke-width="1.1"/>
<polygon points="453.3,716.7 458.1,712.7 464.4,715.8 462.8,722.6 455.7,722.8" fill="rgb(123,123,123)" stroke="rgb(165,165,165)" stroke-width="1.1"/>
<polygon points="298.9,728.3 293.6,731.4 288.1,728.7 290.3,723.1 296.6,722.8" fill="rgb(109,109,109)" stroke="rgb(151,151,151)" stroke-width="1.1"/>
<polygon points="299.6,727.4 303.2,723.4 308.3,722.6 311.5,728.4 307.6,733.9 301.4,732.0" fill="rgb(105,105,105)" stroke="rgb(147,147,147)" stroke-width="1.1"/>
<polygon points="316.3,723.7 321.2,724.6 322.5,730.0 319.4,733.1 313.5,732.0 313.3,727.2" fill="rgb(120,120,120)" stroke="rgb(162,162,162)" stroke-width="1.1"/>
<polygon points="328.0,734.4 325.4,731.2 327.0,726.2 331.2,725.5 335.4,727.7 336.7,732.2 333.1,735.0" fill="rgb(108,108,108)" stroke="rgb(150,150,150)" stroke-width="1.1"/>
<polygon points="344.8,731.8 346.2,727.7 350.5,726.9 352.7,730.3 351.7,733.7 348.0,734.4" fill="rgb(111,111,111)" stroke="rgb(153,153,153)" stroke-width="1.1"/>
<polygon points="362.7,728.6 365.6,732.0 363.4,735.8 359.7,735.9 356.6,733.2 358.1,729.3" fill="rgb(126,126,126)" stroke="rgb(168,168,168)" stroke-width="1.1"/>
<polygon points="374.6,728.9 378.7,727.7 380.5,731.8 378.4,735.2 374.7,735.4 372.1,732.0" fill="rgb(107,107,107)" stroke="rgb(149,149,149)" stroke-width="1.1"/>
<polygon points="401.7,727.8 405.0,725.3 408.7,726.4 410.3,729.2 409.9,732.9 406.1,734.3 403.4,731.6" fill="rgb(126,126,126)" stroke="rgb(168,168,168)" stroke-width="1.1"/>
<polygon points="413.2,727.4 416.8,725.1 421.9,726.8 422.5,732.2 417.6,734.6 413.6,732.4" fill="rgb(124,124,124)" stroke="rgb(166,166,166)" stroke-width="1.1"/>
<polygon points="433.6,726.3 437.4,722.9 441.5,724.8 443.1,730.1 440.7,734.9 435.8,734.3 431.6,731.3" fill="rgb(122,122,122)" stroke="rgb(164,164,164)" stroke-width="1.1"/>
<polygon points="449.3,732.3 451.4,729.2 456.1,729.0 458.6,731.5 458.4,736.3 454.3,738.5 450.2,736.7" fill="rgb(115,115,115)" stroke="rgb(157,157,157)" stroke-width="1.1"/>
<polygon points="309.6,750.3 310.3,744.7 316.3,742.1 321.6,745.9 320.9,751.6 314.9,754.2" fill="rgb(107,107,107)" stroke="rgb(149,149,149)" stroke-width="1.1"/>
<polygon points="322.0,749.3 321.8,741.3 329.0,739.5 332.3,744.8 329.6,750.4" fill="rgb(119,119,119)" stroke="rgb(161,161,161)" stroke-width="1.1"/>
<polygon points="345.4,741.6 343.0,746.5 338.0,746.8 336.7,741.6 340.4,739.2" fill="rgb(110,110,110)" stroke="rgb(152,152,152)" stroke-width="1.1"/>
<polygon points="375.9,747.3 370.2,748.9 366.8,746.0 367.8,740.7 373.1,738.6 377.6,742.6" fill="rgb(115,115,115)" stroke="rgb(157,157,157)" stroke-width="1.1"/>
<polygon points="384.1,750.8 383.2,745.2 386.6,741.3 392.0,743.3 393.4,749.0 388.5,752.5" fill="rgb(104,104,104)" stroke="rgb(146,146,146)" stroke-width="1.1"/>
<polygon points="397.7,747.3 398.8,743.2 402.8,741.9 406.2,744.3 405.3,748.4 401.3,749.3" fill="rgb(126,126,126)" stroke="rgb(168,168,168)" stroke-width="1.1"/>
<polygon points="409.8,739.8 413.9,741.1 415.5,745.6 411.0,748.4 406.7,746.0 406.3,741.7" fill="rgb(120,120,120)" stroke="rgb(162,162,162)" stroke-width="1.1"/>
<polygon points="423.1,745.5 424.4,738.3 431.4,736.4 435.2,743.3 430.0,747.5" fill="rgb(118,118,118)" stroke="rgb(160,160,160)" stroke-width="1.1"/>
<polygon points="432.0,744.3 436.2,740.0 442.2,740.7 444.5,745.4 441.8,751.3 435.7,749.5" fill="rgb(115,115,115)" stroke="rgb(157,157,157)" stroke-width="1.1"/>
<polygon points="287.9,759.5 286.2,756.7 286.3,752.7 290.0,751.5 294.0,753.1 294.1,756.4 292.1,760.0" fill="rgb(113,113,113)" stroke="rgb(155,155,155)" stroke-width="1.1"/>
<polygon points="306.3,752.6 308.2,758.2 305.8,762.7 299.4,762.2 296.1,756.7 300.4,752.7" fill="rgb(119,119,119)" stroke="rgb(161,161,161)" stroke-width="1.1"/>
<polygon points="320.7,765.0 316.6,764.2 314.8,761.1 316.5,757.0 320.8,757.4 322.7,761.0" fill="rgb(122,122,122)" stroke="rgb(164,164,164)" stroke-width="1.1"/>
<polygon points="337.7,762.2 332.6,764.0 328.2,760.0 330.5,754.8 336.0,753.9 340.3,757.5" fill="rgb(126,126,126)" stroke="rgb(168,168,168)" stroke-width="1.1"/>
<polygon points="369.5,753.7 369.9,758.4 366.2,761.0 362.2,759.1 362.3,755.1 365.3,751.8" fill="rgb(108,108,108)" stroke="rgb(150,150,150)" stroke-width="1.1"/>
<polygon points="377.5,760.2 375.7,755.4 381.0,752.1 384.8,756.0 382.9,761.0" fill="rgb(117,117,117)" stroke="rgb(159,159,159)" stroke-width="1.1"/>
<polygon points="389.1,763.6 385.1,762.7 383.7,758.6 385.7,754.3 389.8,754.0 392.1,756.8 391.9,761.4" fill="rgb(113,113,113)" stroke="rgb(155,155,155)" stroke-width="1.1"/>
<polygon points="406.8,759.3 407.1,754.1 411.6,752.4 414.9,756.8 411.6,760.1" fill="rgb(115,115,115)" stroke="rgb(157,157,157)" stroke-width="1.1"/>
<polygon points="422.7,767.2 417.8,768.1 415.4,763.4 416.8,757.8 421.0,755.8 425.9,759.3 426.8,764.4" fill="rgb(109,109,109)" stroke="rgb(151,151,151)" stroke-width="1.1"/>
<polygon points="443.8,763.8 438.6,768.1 433.3,763.2 436.3,757.7 442.9,756.9" fill="rgb(109,109,109)" stroke="rgb(151,151,151)" stroke-width="1.1"/>
<polygon points="299.6,767.5 302.3,769.7 302.7,773.2 300.2,775.5 296.5,775.8 294.6,772.3 296.5,769.2" fill="rgb(111,111,111)" stroke="rgb(153,153,153)" stroke-width="1.1"/>
<polygon points="309.1,771.0 313.7,773.1 312.7,777.6 310.0,781.3 305.5,781.0 301.6,776.2 304.0,772.2" fill="rgb(118,118,118)" stroke="rgb(160,160,160)" stroke-width="1.1"/>
<polygon points="317.4,771.7 319.6,766.7 323.7,766.6 327.8,768.7 327.6,773.0 324.8,776.6 319.9,775.6" fill="rgb(102,102,102)" stroke="rgb(144,144,144)" stroke-width="1.1"/>
<polygon points="341.9,770.7 346.1,773.0 346.9,776.8 343.7,780.2 339.1,777.9 338.6,774.1" fill="rgb(107,107,107)" stroke="rgb(149,149,149)" stroke-width="1.1"/>
<polygon points="358.5,765.6 361.1,768.0 359.9,772.2 355.9,773.0 352.8,769.6 355.1,766.3" fill="rgb(124,124,124)" stroke="rgb(166,166,166)" stroke-width="1.1"/>
<polygon points="373.3,771.8 375.6,774.9 375.1,779.3 370.9,780.0 367.9,776.4 369.4,772.3" fill="rgb(119,119,119)" stroke="rgb(161,161,161)" stroke-width="1.1"/>
<polygon points="379.2,775.8 381.3,770.8 386.2,768.3 389.6,772.7 389.1,778.3 383.2,779.8" fill="rgb(102,102,102)" stroke="rgb(144,144,144)" stroke-width="1.1"/>
<polygon points="402.2,772.2 396.5,774.8 392.0,769.7 396.0,764.9 401.5,765.5" fill="rgb(124,124,124)" stroke="rgb(166,166,166)" stroke-width="1.1"/>
<polygon points="418.2,769.5 418.5,775.0 413.7,776.3 409.2,775.0 409.5,769.5 413.6,766.6" fill="rgb(114,114,114)" stroke="rgb(156,156,156)" stroke-width="1.1"/>
<polygon points="422.8,780.1 418.2,773.9 424.0,768.5 431.0,771.7 429.7,778.8" fill="rgb(107,107,107)" stroke="rgb(149,149,149)" stroke-width="1.1"/>
<polygon points="461.0,773.0 457.9,776.5 453.6,776.4 450.4,772.9 453.5,769.4 457.8,768.9" fill="rgb(106,106,106)" stroke="rgb(148,148,148)" stroke-width="1.1"/>
<polygon points="297.4,784.0 297.5,789.8 292.9,793.5 287.2,792.1 285.7,786.8 287.3,781.8 293.2,781.6" fill="rgb(123,123,123)" stroke="rgb(165,165,165)" stroke-width="1.1"/>
<polygon points="302.1,780.0 309.8,781.2 309.6,788.9 302.5,791.8 298.3,785.6" fill="rgb(102,102,102)" stroke="rgb(144,144,144)" stroke-width="1.1"/>
<polygon points="312.9,778.4 317.6,778.2 321.6,781.3 320.6,785.8 317.0,789.3 312.2,787.7 310.9,783.0" fill="rgb(106,106,106)" stroke="rgb(148,148,148)" stroke-width="1.1"/>
<polygon points="345.5,794.6 340.0,791.2 341.6,785.6 347.4,784.3 351.1,787.7 351.6,793.0" fill="rgb(120,120,120)" stroke="rgb(162,162,162)" stroke-width="1.1"/>
<polygon points="378.0,783.1 377.2,787.6 373.4,789.3 370.3,786.9 369.9,781.8 374.5,780.0" fill="rgb(124,124,124)" stroke="rgb(166,166,166)" stroke-width="1.1"/>
<polygon points="405.9,783.5 411.4,782.8 416.2,787.8 412.7,793.2 407.8,794.2 403.2,789.5" fill="rgb(103,103,103)" stroke="rgb(145,145,145)" stroke-width="1.1"/>
<polygon points="427.5,793.1 422.4,795.1 419.4,789.4 423.5,784.6 428.8,787.1" fill="rgb(127,127,127)" stroke="rgb(169,169,169)" stroke-width="1.1"/>
<polygon points="428.2,785.8 430.2,782.5 434.6,782.4 435.5,786.3 433.9,789.2 429.9,789.8" fill="rgb(102,102,102)" stroke="rgb(144,144,144)" stroke-width="1.1"/>
<polygon points="294.7,795.5 299.6,794.4 301.4,799.0 297.5,801.8 293.2,799.3" fill="rgb(101,101,101)" stroke="rgb(143,143,143)" stroke-width="1.1"/>
<polygon points="315.2,804.3 312.7,808.3 308.6,808.0 306.1,803.4 309.3,800.3 313.1,800.9" fill="rgb(105,105,105)" stroke="rgb(147,147,147)" stroke-width="1.1"/>
<polygon points="336.7,795.2 340.7,795.7 343.5,798.9 342.7,804.0 339.1,804.7 335.4,803.7 333.4,799.4" fill="rgb(124,124,124)" stroke="rgb(166,166,166)" stroke-width="1.1"/>
<polygon points="361.5,802.1 362.9,798.3 366.3,797.1 370.3,798.4 369.8,802.7 367.8,805.2 363.8,804.8" fill="rgb(126,126,126)" stroke="rgb(168,168,168)" stroke-width="1.1"/>
<polygon points="388.6,802.0 387.6,806.9 382.2,808.3 379.4,805.1 380.1,799.2 385.3,798.5" fill="rgb(116,116,116)" stroke="rgb(158,158,158)" stroke-width="1.1"/>
<polygon points="392.1,803.8 393.8,797.7 400.6,797.2 402.7,803.6 397.5,807.3" fill="rgb(127,127,127)" stroke="rgb(169,169,169)" stroke-width="1.1"/>
<polygon points="409.7,793.8 414.3,794.5 416.6,798.8 413.3,802.8 408.7,802.8 406.5,798.2" fill="rgb(110,110,110)" stroke="rgb(152,152,152)" stroke-width="1.1"/>
<polygon points="420.1,798.6 424.1,794.3 430.6,795.8 431.9,801.6 427.7,806.4 420.8,803.8" fill="rgb(116,116,116)" stroke="rgb(158,158,158)" stroke-width="1.1"/>
<polygon points="451.9,794.6 456.1,792.5 460.8,794.9 461.4,799.4 456.6,803.4 451.4,800.4" fill="rgb(120,120,120)" stroke="rgb(162,162,162)" stroke-width="1.1"/>
<line x1="354.6" y1="619.0" x2="346.4" y2="651.8" stroke="rgb(184,184,184)" stroke-width="2.4" stroke-linecap="round"/>
<line x1="293.0" y1="653.2" x2="364.2" y2="690.2" stroke="rgb(198,198,198)" stroke-width="3.6" stroke-linecap="round"/>
<line x1="291.6" y1="686.1" x2="349.1" y2="717.6" stroke="rgb(185,185,185)" stroke-width="2.0" stroke-linecap="round"/>
<line x1="338.2" y1="649.1" x2="323.1" y2="761.4" stroke="rgb(200,200,200)" stroke-width="2.0" stroke-linecap="round"/>
<line x1="346.4" y1="662.8" x2="336.8" y2="728.5" stroke="rgb(196,196,196)" stroke-width="2.4" stroke-linecap="round"/>
<line x1="295.7" y1="751.8" x2="429.9" y2="698.4" stroke="rgb(208,208,208)" stroke-width="2.4" stroke-linecap="round"/>
<line x1="309.4" y1="682.0" x2="328.6" y2="783.3" stroke="rgb(202,202,202)" stroke-width="2.4" stroke-linecap="round"/>
<line x1="371.0" y1="675.1" x2="391.6" y2="783.3" stroke="rgb(184,184,184)" stroke-width="2.8" stroke-linecap="round"/>
<line x1="380.6" y1="638.1" x2="402.5" y2="714.8" stroke="rgb(189,189,189)" stroke-width="2.0" stroke-linecap="round"/>
<line x1="353.2" y1="647.7" x2="451.9" y2="690.2" stroke="rgb(202,202,202)" stroke-width="2.0" stroke-linecap="round"/>
<line x1="410.8" y1="619.0" x2="451.9" y2="640.9" stroke="rgb(205,205,205)" stroke-width="2.4" stroke-linecap="round"/>
<line x1="372.4" y1="701.2" x2="451.9" y2="692.9" stroke="rgb(187,187,187)" stroke-width="2.0" stroke-linecap="round"/>
<line x1="451.9" y1="690.2" x2="438.2" y2="799.8" stroke="rgb(198,198,198)" stroke-width="2.0" stroke-linecap="round"/>
<line x1="399.8" y1="739.5" x2="361.5" y2="786.1" stroke="rgb(186,186,186)" stroke-width="2.0" stroke-linecap="round"/>
<line x1="347.8" y1="775.1" x2="361.5" y2="786.1" stroke="rgb(183,183,183)" stroke-width="1.8" stroke-linecap="round"/>
<line x1="391.6" y1="755.9" x2="451.9" y2="788.8" stroke="rgb(204,204,204)" stroke-width="1.8" stroke-linecap="round"/>
<line x1="353.2" y1="745.0" x2="347.8" y2="775.1" stroke="rgb(180,180,180)" stroke-width="1.8" stroke-linecap="round"/>
<line x1="317.6" y1="745.0" x2="377.9" y2="775.1" stroke="rgb(197,197,197)" stroke-width="2.0" stroke-linecap="round"/>
<line x1="323.1" y1="761.4" x2="317.6" y2="783.3" stroke="rgb(192,192,192)" stroke-width="2.8" stroke-linecap="round"/>
</g>
<rect x="295.2" y="787.5" width="91.5" height="16.1" fill="#000"/>
<rect x="313.5" y="793.2" width="54.8" height="2.3" fill="#f4f4f4" filter="url(#soft)"/>
</g></g>
<g>
<rect x="464.6" y="613.7" width="172.0" height="192.4" rx="2.5" fill="#fb6298"/>
<clipPath id="cp6"><rect x="469.5" y="618.6" width="162.2" height="182.6"/></clipPath>
<g clip-path="url(#cp6)">
<rect x="468.5" y="617.6" width="164.20000000000005" height="184.60000000000002" fill="#565656"/>
<g filter="url(#b1)">
<circle cx="607.3" cy="778.4" r="1.4" fill="none" stroke="#878787" stroke-width="0.9"/>
<circle cx="565.0" cy="654.8" r="1.4" fill="none" stroke="#878787" stroke-width="0.9"/>
<circle cx="471.9" cy="716.3" r="1.4" fill="none" stroke="#878787" stroke-width="0.9"/>
<circle cx="587.2" cy="668.3" r="1.4" fill="none" stroke="#878787" stroke-width="0.9"/>
<circle cx="480.9" cy="619.5" r="1.4" fill="none" stroke="#878787" stroke-width="0.9"/>
<circle cx="497.6" cy="745.7" r="1.4" fill="none" stroke="#878787" stroke-width="0.9"/>
<circle cx="470.1" cy="660.6" r="1.4" fill="none" stroke="#878787" stroke-width="0.9"/>
<circle cx="512.5" cy="748.4" r="1.4" fill="none" stroke="#878787" stroke-width="0.9"/>
<circle cx="629.6" cy="622.1" r="1.4" fill="none" stroke="#878787" stroke-width="0.9"/>
<circle cx="488.0" cy="789.3" r="1.4" fill="none" stroke="#878787" stroke-width="0.9"/>
<circle cx="626.8" cy="645.7" r="1.4" fill="none" stroke="#878787" stroke-width="0.9"/>
<circle cx="523.9" cy="714.0" r="1.4" fill="none" stroke="#878787" stroke-width="0.9"/>
<circle cx="521.4" cy="694.8" r="1.4" fill="none" stroke="#878787" stroke-width="0.9"/>
<circle cx="547.2" cy="665.8" r="1.4" fill="none" stroke="#878787" stroke-width="0.9"/>
<circle cx="478.4" cy="633.9" r="1.4" fill="none" stroke="#878787" stroke-width="0.9"/>
<circle cx="495.9" cy="635.3" r="1.4" fill="none" stroke="#878787" stroke-width="0.9"/>
<circle cx="570.7" cy="745.8" r="1.4" fill="none" stroke="#878787" stroke-width="0.9"/>
<circle cx="512.2" cy="763.2" r="1.4" fill="none" stroke="#878787" stroke-width="0.9"/>
<circle cx="587.7" cy="681.0" r="1.4" fill="none" stroke="#878787" stroke-width="0.9"/>
<circle cx="549.3" cy="653.0" r="1.4" fill="none" stroke="#878787" stroke-width="0.9"/>
<circle cx="620.2" cy="720.9" r="1.4" fill="none" stroke="#878787" stroke-width="0.9"/>
<circle cx="477.8" cy="646.7" r="1.4" fill="none" stroke="#878787" stroke-width="0.9"/>
<circle cx="581.8" cy="688.9" r="1.4" fill="none" stroke="#878787" stroke-width="0.9"/>
<circle cx="585.8" cy="660.5" r="1.4" fill="none" stroke="#878787" stroke-width="0.9"/>
<circle cx="598.8" cy="765.0" r="1.4" fill="none" stroke="#878787" stroke-width="0.9"/>
<circle cx="484.8" cy="725.6" r="1.4" fill="none" stroke="#878787" stroke-width="0.9"/>
<circle cx="500.5" cy="747.8" r="1.4" fill="none" stroke="#878787" stroke-width="0.9"/>
<circle cx="599.9" cy="763.1" r="1.4" fill="none" stroke="#878787" stroke-width="0.9"/>
<circle cx="507.0" cy="635.6" r="1.4" fill="none" stroke="#878787" stroke-width="0.9"/>
<circle cx="577.1" cy="721.8" r="1.4" fill="none" stroke="#878787" stroke-width="0.9"/>
<circle cx="491.9" cy="653.8" r="1.4" fill="none" stroke="#878787" stroke-width="0.9"/>
<circle cx="564.0" cy="638.3" r="1.4" fill="none" stroke="#878787" stroke-width="0.9"/>
<circle cx="572.3" cy="662.6" r="1.4" fill="none" stroke="#878787" stroke-width="0.9"/>
<circle cx="511.4" cy="695.9" r="1.4" fill="none" stroke="#878787" stroke-width="0.9"/>
<circle cx="556.0" cy="750.9" r="1.4" fill="none" stroke="#878787" stroke-width="0.9"/>
<circle cx="474.5" cy="750.9" r="1.4" fill="none" stroke="#878787" stroke-width="0.9"/>
<circle cx="505.3" cy="671.7" r="1.4" fill="none" stroke="#878787" stroke-width="0.9"/>
<circle cx="573.3" cy="744.8" r="1.4" fill="none" stroke="#878787" stroke-width="0.9"/>
<circle cx="569.2" cy="783.3" r="1.4" fill="none" stroke="#878787" stroke-width="0.9"/>
<circle cx="502.7" cy="675.4" r="1.4" fill="none" stroke="#878787" stroke-width="0.9"/>
<circle cx="577.0" cy="666.2" r="1.4" fill="none" stroke="#878787" stroke-width="0.9"/>
<circle cx="495.0" cy="659.9" r="1.4" fill="none" stroke="#878787" stroke-width="0.9"/>
<circle cx="594.6" cy="769.6" r="1.4" fill="none" stroke="#878787" stroke-width="0.9"/>
<circle cx="585.7" cy="793.7" r="1.4" fill="none" stroke="#878787" stroke-width="0.9"/>
<circle cx="598.3" cy="675.1" r="1.4" fill="none" stroke="#878787" stroke-width="0.9"/>
<circle cx="520.7" cy="750.3" r="1.4" fill="none" stroke="#878787" stroke-width="0.9"/>
<circle cx="478.5" cy="729.8" r="1.4" fill="none" stroke="#878787" stroke-width="0.9"/>
<circle cx="484.0" cy="627.6" r="1.4" fill="none" stroke="#878787" stroke-width="0.9"/>
<circle cx="552.8" cy="646.2" r="1.4" fill="none" stroke="#878787" stroke-width="0.9"/>
<circle cx="620.6" cy="778.8" r="1.4" fill="none" stroke="#878787" stroke-width="0.9"/>
<circle cx="544.4" cy="654.7" r="1.4" fill="none" stroke="#878787" stroke-width="0.9"/>
<circle cx="488.9" cy="711.1" r="1.4" fill="none" stroke="#878787" stroke-width="0.9"/>
<circle cx="554.1" cy="684.9" r="1.4" fill="none" stroke="#878787" stroke-width="0.9"/>
<circle cx="585.7" cy="715.2" r="1.4" fill="none" stroke="#878787" stroke-width="0.9"/>
<circle cx="595.3" cy="638.0" r="1.4" fill="none" stroke="#878787" stroke-width="0.9"/>
<circle cx="480.9" cy="689.3" r="1.4" fill="none" stroke="#878787" stroke-width="0.9"/>
<circle cx="547.9" cy="664.7" r="1.4" fill="none" stroke="#878787" stroke-width="0.9"/>
<circle cx="577.9" cy="659.1" r="1.4" fill="none" stroke="#878787" stroke-width="0.9"/>
<circle cx="521.1" cy="705.7" r="1.4" fill="none" stroke="#878787" stroke-width="0.9"/>
<circle cx="585.0" cy="759.3" r="1.4" fill="none" stroke="#878787" stroke-width="0.9"/>
<circle cx="529.8" cy="700.2" r="1.4" fill="none" stroke="#878787" stroke-width="0.9"/>
<circle cx="620.0" cy="789.1" r="1.4" fill="none" stroke="#878787" stroke-width="0.9"/>
<circle cx="569.9" cy="637.8" r="1.4" fill="none" stroke="#878787" stroke-width="0.9"/>
<circle cx="543.4" cy="734.9" r="1.4" fill="none" stroke="#878787" stroke-width="0.9"/>
<circle cx="514.7" cy="625.4" r="1.4" fill="none" stroke="#878787" stroke-width="0.9"/>
<circle cx="628.6" cy="784.7" r="1.4" fill="none" stroke="#878787" stroke-width="0.9"/>
<circle cx="490.4" cy="703.7" r="1.4" fill="none" stroke="#878787" stroke-width="0.9"/>
<circle cx="570.0" cy="673.4" r="1.4" fill="none" stroke="#878787" stroke-width="0.9"/>
<circle cx="480.6" cy="755.7" r="1.4" fill="none" stroke="#878787" stroke-width="0.9"/>
<circle cx="594.5" cy="698.5" r="1.4" fill="none" stroke="#878787" stroke-width="0.9"/>
<line x1="471.0" y1="673.8" x2="528.5" y2="680.6" stroke="#8e8e8e" stroke-width="2.2"/>
<line x1="542.2" y1="720.3" x2="629.9" y2="766.9" stroke="#8e8e8e" stroke-width="2.2"/>
<line x1="501.1" y1="783.3" x2="602.5" y2="742.2" stroke="#8e8e8e" stroke-width="2.2"/>
<line x1="525.8" y1="671.0" x2="501.1" y2="783.3" stroke="#8e8e8e" stroke-width="2.2"/>
<line x1="621.6" y1="676.5" x2="629.9" y2="712.1" stroke="#8e8e8e" stroke-width="2.2"/>
<line x1="594.2" y1="687.5" x2="629.9" y2="690.2" stroke="#8e8e8e" stroke-width="2.2"/>
<line x1="569.6" y1="797.0" x2="624.4" y2="788.8" stroke="#8e8e8e" stroke-width="2.2"/>
<line x1="471.0" y1="723.1" x2="514.8" y2="750.5" stroke="#8e8e8e" stroke-width="2.2"/>
<line x1="575.1" y1="629.9" x2="613.4" y2="632.7" stroke="#8e8e8e" stroke-width="2.2"/>
<line x1="569.6" y1="690.2" x2="577.8" y2="679.2" stroke="#8e8e8e" stroke-width="2.2"/>
<line x1="480.5" y1="634.0" x2="480.5" y2="673.8" stroke="#e9e9e9" stroke-width="3.0"/>
<circle cx="480.5" cy="634.0" r="1.2" fill="#333"/>
<line x1="492.3" y1="619.0" x2="492.3" y2="690.2" stroke="#e9e9e9" stroke-width="3.0"/>
<circle cx="492.3" cy="619.0" r="1.2" fill="#333"/>
<line x1="502.5" y1="619.0" x2="502.5" y2="643.6" stroke="#e9e9e9" stroke-width="3.0"/>
<circle cx="502.5" cy="619.0" r="1.2" fill="#333"/>
<line x1="503.8" y1="669.6" x2="503.8" y2="739.5" stroke="#e9e9e9" stroke-width="3.0"/>
<circle cx="503.8" cy="669.6" r="1.2" fill="#333"/>
<line x1="516.2" y1="619.0" x2="516.2" y2="657.3" stroke="#e9e9e9" stroke-width="3.0"/>
<circle cx="516.2" cy="619.0" r="1.2" fill="#333"/>
<line x1="516.2" y1="690.2" x2="516.2" y2="728.5" stroke="#e9e9e9" stroke-width="3.0"/>
<circle cx="516.2" cy="690.2" r="1.2" fill="#333"/>
<line x1="528.5" y1="682.0" x2="528.5" y2="750.5" stroke="#e9e9e9" stroke-width="3.0"/>
<circle cx="528.5" cy="682.0" r="1.2" fill="#333"/>
<line x1="531.8" y1="703.9" x2="531.8" y2="736.8" stroke="#e9e9e9" stroke-width="3.0"/>
<circle cx="531.8" cy="703.9" r="1.2" fill="#333"/>
<line x1="540.3" y1="621.7" x2="540.3" y2="725.8" stroke="#e9e9e9" stroke-width="3.0"/>
<circle cx="540.3" cy="621.7" r="1.2" fill="#333"/>
<line x1="551.8" y1="632.7" x2="551.8" y2="679.2" stroke="#e9e9e9" stroke-width="3.0"/>
<circle cx="551.8" cy="632.7" r="1.2" fill="#333"/>
<line x1="575.1" y1="619.0" x2="575.1" y2="679.2" stroke="#e9e9e9" stroke-width="3.0"/>
<circle cx="575.1" cy="619.0" r="1.2" fill="#333"/>
<line x1="577.8" y1="629.9" x2="577.8" y2="671.0" stroke="#e9e9e9" stroke-width="3.0"/>
<circle cx="577.8" cy="629.9" r="1.2" fill="#333"/>
<line x1="599.7" y1="619.0" x2="599.7" y2="654.6" stroke="#e9e9e9" stroke-width="3.0"/>
<circle cx="599.7" cy="619.0" r="1.2" fill="#333"/>
<line x1="610.7" y1="619.0" x2="610.7" y2="690.2" stroke="#e9e9e9" stroke-width="3.0"/>
<circle cx="610.7" cy="619.0" r="1.2" fill="#333"/>
<line x1="612.1" y1="701.2" x2="612.1" y2="745.0" stroke="#e9e9e9" stroke-width="3.0"/>
<circle cx="612.1" cy="701.2" r="1.2" fill="#333"/>
<line x1="601.1" y1="692.9" x2="601.1" y2="761.4" stroke="#e9e9e9" stroke-width="3.0"/>
<circle cx="601.1" cy="692.9" r="1.2" fill="#333"/>
<line x1="471.0" y1="692.9" x2="471.0" y2="731.3" stroke="#e9e9e9" stroke-width="3.0"/>
<circle cx="471.0" cy="692.9" r="1.2" fill="#333"/>
<line x1="480.5" y1="728.5" x2="480.5" y2="783.3" stroke="#e9e9e9" stroke-width="3.0"/>
<circle cx="480.5" cy="728.5" r="1.2" fill="#333"/>
<line x1="492.9" y1="728.5" x2="492.9" y2="775.1" stroke="#e9e9e9" stroke-width="3.0"/>
<circle cx="492.9" cy="728.5" r="1.2" fill="#333"/>
<line x1="517.5" y1="728.5" x2="517.5" y2="775.1" stroke="#e9e9e9" stroke-width="3.0"/>
<circle cx="517.5" cy="728.5" r="1.2" fill="#333"/>
<line x1="553.2" y1="751.8" x2="553.2" y2="786.1" stroke="#e9e9e9" stroke-width="3.0"/>
<circle cx="553.2" cy="751.8" r="1.2" fill="#333"/>
<line x1="564.9" y1="739.5" x2="564.9" y2="799.8" stroke="#e9e9e9" stroke-width="3.0"/>
<circle cx="564.9" cy="739.5" r="1.2" fill="#333"/>
<line x1="584.7" y1="772.4" x2="584.7" y2="799.8" stroke="#e9e9e9" stroke-width="3.0"/>
<circle cx="584.7" cy="772.4" r="1.2" fill="#333"/>
<line x1="602.5" y1="788.8" x2="602.5" y2="799.8" stroke="#e9e9e9" stroke-width="3.0"/>
<circle cx="602.5" cy="788.8" r="1.2" fill="#333"/>
<line x1="516.2" y1="627.2" x2="539.5" y2="654.6" stroke="#d8d8d8" stroke-width="2.4"/>
</g>
<rect x="473.2" y="787.5" width="87.6" height="16.1" fill="#000"/>
<rect x="488.8" y="793.7" width="52.8" height="2.3" fill="#f4f4f4" filter="url(#soft)"/>
</g></g>
<g>
<line x1="205.5" y1="199.5" x2="229.4" y2="256.9" stroke="#878787" stroke-width="1.9" stroke-dasharray="7.3 5.5"/>
<line x1="306.3" y1="187.5" x2="306.3" y2="227.0" stroke="#878787" stroke-width="1.9" stroke-dasharray="7.3 5.5"/>
<line x1="343.0" y1="334.0" x2="465.5" y2="199.0" stroke="#878787" stroke-width="1.9" stroke-dasharray="7.3 5.5"/>
<line x1="189.6" y1="454.0" x2="128.4" y2="612.9" stroke="#878787" stroke-width="1.9" stroke-dasharray="7.3 5.5"/>
<line x1="219.6" y1="561.7" x2="310.0" y2="613.7" stroke="#878787" stroke-width="1.9" stroke-dasharray="7.3 5.5"/>
<line x1="374.5" y1="516.2" x2="496.5" y2="613.5" stroke="#878787" stroke-width="1.9" stroke-dasharray="7.3 5.5"/>
</g>
<rect x="106.5" y="212.4" width="529.8" height="339.5" rx="1.2" fill="none" stroke="#727272" stroke-width="2.2"/>
<g stroke="#8a8a8a" stroke-width="1.1">
<line x1="182.2" y1="551.9" x2="182.2" y2="547.9"/>
<line x1="182.2" y1="212.4" x2="182.2" y2="216.4"/>
<line x1="257.9" y1="551.9" x2="257.9" y2="547.9"/>
<line x1="257.9" y1="212.4" x2="257.9" y2="216.4"/>
<line x1="333.6" y1="551.9" x2="333.6" y2="547.9"/>
<line x1="333.6" y1="212.4" x2="333.6" y2="216.4"/>
<line x1="409.2" y1="551.9" x2="409.2" y2="547.9"/>
<line x1="409.2" y1="212.4" x2="409.2" y2="216.4"/>
<line x1="484.9" y1="551.9" x2="484.9" y2="547.9"/>
<line x1="484.9" y1="212.4" x2="484.9" y2="216.4"/>
<line x1="560.6" y1="551.9" x2="560.6" y2="547.9"/>
<line x1="560.6" y1="212.4" x2="560.6" y2="216.4"/>
<line x1="106.5" y1="484.0" x2="110.5" y2="484.0"/>
<line x1="636.3" y1="484.0" x2="632.3" y2="484.0"/>
<line x1="106.5" y1="416.1" x2="110.5" y2="416.1"/>
<line x1="636.3" y1="416.1" x2="632.3" y2="416.1"/>
<line x1="106.5" y1="348.2" x2="110.5" y2="348.2"/>
<line x1="636.3" y1="348.2" x2="632.3" y2="348.2"/>
<line x1="106.5" y1="280.3" x2="110.5" y2="280.3"/>
<line x1="636.3" y1="280.3" x2="632.3" y2="280.3"/>
</g>
<g font-size="21.2">
<text x="106.1" y="577.0" text-anchor="middle">0</text>
<text x="181.8" y="577.0" text-anchor="middle">2</text>
<text x="257.5" y="577.0" text-anchor="middle">4</text>
<text x="333.2" y="577.0" text-anchor="middle">6</text>
<text x="408.8" y="577.0" text-anchor="middle">8</text>
<text x="484.5" y="577.0" text-anchor="middle">10</text>
<text x="560.2" y="577.0" text-anchor="middle">12</text>
<text x="635.9" y="577.0" text-anchor="middle">14</text>
<text x="94.0" y="559.2" text-anchor="end">0</text>
<text x="94.0" y="491.3" text-anchor="end">20</text>
<text x="94.0" y="423.4" text-anchor="end">40</text>
<text x="94.0" y="355.5" text-anchor="end">60</text>
<text x="94.0" y="287.6" text-anchor="end">80</text>
<text x="94.0" y="219.7" text-anchor="end">100</text>
</g>
<text x="298.6" y="603.8" font-size="21">Aspect ratio <tspan font-style="italic">d</tspan><tspan dx="1.5">/</tspan><tspan font-style="italic" dx="1.5">h</tspan></text>
<text transform="translate(40.3 381) rotate(-90)" font-size="21" text-anchor="middle">Vertical yield (%)</text>
<clipPath id="plotclip"><rect x="106.5" y="207.4" width="529.8" height="344.5"/></clipPath>
<g clip-path="url(#plotclip)">
<rect x="229.4" y="256.9" width="35.9" height="26.8" fill="none" stroke="#5c5c5c" stroke-width="1.5" stroke-dasharray="4 2.5"/>
<rect x="290.7" y="226.8" width="31.3" height="27.4" fill="none" stroke="#5c5c5c" stroke-width="1.5" stroke-dasharray="4 2.5"/>
<rect x="309.5" y="334.0" width="33.5" height="29.5" fill="none" stroke="#5c5c5c" stroke-width="1.5" stroke-dasharray="4 2.5"/>
<rect x="190.4" y="426.3" width="36.8" height="27.7" fill="none" stroke="#5c5c5c" stroke-width="1.5" stroke-dasharray="4 2.5"/>
<rect x="342.4" y="489.6" width="31.1" height="26.8" fill="none" stroke="#5c5c5c" stroke-width="1.5" stroke-dasharray="4 2.5"/>
<ellipse cx="192.8" cy="553.3" rx="8.6" ry="8.1" fill="#72aa6c" fill-opacity="0.82" stroke="#587a56" stroke-width="1.2"/>
<ellipse cx="205.0" cy="553.3" rx="8.6" ry="8.1" fill="#72aa6c" fill-opacity="0.82" stroke="#587a56" stroke-width="1.2"/>
<ellipse cx="239.0" cy="541.8" rx="8.6" ry="7.8" fill="#72aa6c" stroke="#587a56" stroke-width="1.2"/>
<ellipse cx="268.8" cy="385.0" rx="8.6" ry="7.8" fill="#72aa6c" stroke="#587a56" stroke-width="1.2"/>
<ellipse cx="325.7" cy="347.6" rx="8.9" ry="7.9" fill="#72aa6c" stroke="#587a56" stroke-width="1.2"/>
<ellipse cx="285.6" cy="320.8" rx="6.6" ry="6.2" fill="#f57d7d" stroke="#b38080" stroke-width="1.1"/>
<ellipse cx="357.6" cy="501.2" rx="6.6" ry="6.2" fill="#f57d7d" stroke="#b38080" stroke-width="1.1"/>
<ellipse cx="306.7" cy="238.8" rx="6.9" ry="6.0" fill="#f57d7d" stroke="#b38080" stroke-width="1.1"/>
<ellipse cx="485.2" cy="550.6" rx="7.0" ry="6.8" fill="#f57d7d" stroke="#b38080" stroke-width="1.1"/>
<ellipse cx="608.3" cy="550.6" rx="7.0" ry="6.8" fill="#f57d7d" stroke="#b38080" stroke-width="1.1"/>
<ellipse cx="208.7" cy="440.0" rx="7.8" ry="7.0" fill="#7979f5" stroke="#6868ac" stroke-width="1.0"/>
<ellipse cx="246.5" cy="269.7" rx="7.8" ry="7.0" fill="#7979f5" stroke="#6868ac" stroke-width="1.0"/>
<ellipse cx="294.8" cy="337.6" rx="7.8" ry="7.0" fill="#7979f5" stroke="#6868ac" stroke-width="1.0"/>
<ellipse cx="337.2" cy="551.8" rx="8.3" ry="8.0" fill="#7979f5" stroke="#6868ac" stroke-width="1.0"/>
<ellipse cx="361.6" cy="551.8" rx="8.3" ry="8.0" fill="#7979f5" stroke="#6868ac" stroke-width="1.0"/>
<polyline points="205.0,550.5 239.0,541.8 268.3,384.8 325.7,347.6" fill="none" stroke="#32bc6c" stroke-width="2.0" stroke-dasharray="4 2.4"/>
<polyline points="285.7,320.9 306.8,238.7 357.6,501.2 485.2,546.6 608.3,546.6" fill="none" stroke="#f5649a" stroke-width="1.7" stroke-dasharray="4 2.4"/>
<polyline points="208.7,440.0 246.7,270.0 294.8,337.6 337.6,550.5" fill="none" stroke="#2a82f5" stroke-width="2.1" stroke-dasharray="4 2.4"/>
<polyline points="294.8,337.6 334.3,550.5" fill="none" stroke="#5a9df7" stroke-width="1.2" stroke-dasharray="4 2.4"/>
<ellipse cx="290.2" cy="471.6" rx="8.5" ry="7.8" fill="#c47ac2" stroke="#6529aa" stroke-width="1.8"/>
<ellipse cx="320.5" cy="448.5" rx="8.5" ry="7.8" fill="#c47ac2" stroke="#6529aa" stroke-width="1.8"/>
<ellipse cx="365.2" cy="375.0" rx="8.5" ry="7.8" fill="#c47ac2" stroke="#6529aa" stroke-width="1.8"/>
<ellipse cx="460.0" cy="377.3" rx="8.5" ry="7.8" fill="#c47ac2" stroke="#6529aa" stroke-width="1.8"/>
<ellipse cx="557.5" cy="456.1" rx="8.5" ry="7.8" fill="#c47ac2" stroke="#6529aa" stroke-width="1.8"/>
<ellipse cx="224.7" cy="370.6" rx="8.0" ry="7.7" fill="#f8f598" stroke="#f41616" stroke-width="2.6"/>
<ellipse cx="260.4" cy="342.9" rx="8.0" ry="7.7" fill="#f8f598" stroke="#f41616" stroke-width="2.6"/>
<ellipse cx="320.3" cy="231.9" rx="8.0" ry="7.7" fill="#f8f598" stroke="#f41616" stroke-width="2.6"/>
<ellipse cx="389.0" cy="292.5" rx="8.0" ry="7.7" fill="#f8f598" stroke="#f41616" stroke-width="2.6"/>
<ellipse cx="559.3" cy="521.6" rx="8.0" ry="7.7" fill="#f8f598" stroke="#f41616" stroke-width="2.6"/>
</g>
<line x1="107.5" y1="551.9" x2="635.3" y2="551.9" stroke="#727272" stroke-width="2.2"/>
<rect x="190.4" y="534.3" width="29.2" height="27.4" fill="none" stroke="#5c5c5c" stroke-width="1.5" stroke-dasharray="4 2.5"/>
<g>
<rect x="448.4" y="223.0" width="180.2" height="139.6" fill="#fff" stroke="#878787" stroke-width="1.6"/>
<line x1="448.4" y1="249.6" x2="628.6" y2="249.6" stroke="#969696" stroke-width="1.3"/>
<line x1="448.4" y1="337.0" x2="628.6" y2="337.0" stroke="#969696" stroke-width="1.3"/>
<line x1="558.9" y1="223.5" x2="558.9" y2="337" stroke="#8a8a8a" stroke-width="1" stroke-dasharray="1.2 1.6"/>
<text x="453.2" y="239.6" font-size="15.6">Oxide tickness</text>
<text x="585.8" y="237.0" font-size="15.6">t<tspan font-size="11.9" dy="6.2">Ga</tspan></text>
<g font-size="12.6">
<text x="501.8" y="263.8">10 nm</text>
<text x="501.8" y="285.2">15 nm</text>
<text x="501.8" y="307.3">20 nm</text>
<text x="501.8" y="328.2">10 nm</text>
<text x="571.3" y="285.2">10 min</text>
<text x="571.3" y="328.2">15 min</text>
</g>
<text x="501.6" y="354.3" font-size="15.5">Reference (7)</text>
<path d="M541.5 252.4 H545.2 Q546.6 252.4 546.6 254 V307.2 Q546.6 308.8 545.2 308.8 H541.5 M546.6 280.4 H553.8" fill="none" stroke="#8c8c8c" stroke-width="1"/>
<circle cx="464.8" cy="259.4" r="3.9" fill="#f57d7d" stroke="#c98a8a" stroke-width="0.9"/>
<circle cx="474.7" cy="258.1" r="3.9" fill="#f57d7d" stroke="#c98a8a" stroke-width="0.9"/>
<circle cx="483.9" cy="259.7" r="3.9" fill="#f57d7d" stroke="#c98a8a" stroke-width="0.9"/>
<circle cx="464.8" cy="280.2" r="4.5" fill="#7979f5" stroke="#7d7dc8" stroke-width="0.9"/>
<circle cx="474.7" cy="279.0" r="4.5" fill="#7979f5" stroke="#7d7dc8" stroke-width="0.9"/>
<circle cx="484.0" cy="280.5" r="4.5" fill="#7979f5" stroke="#7d7dc8" stroke-width="0.9"/>
<circle cx="464.8" cy="300.0" r="4.8" fill="#72aa6c" stroke="#587a56" stroke-width="0.9"/>
<circle cx="474.7" cy="299.0" r="4.8" fill="#72aa6c" stroke="#587a56" stroke-width="0.9"/>
<circle cx="484.6" cy="300.5" r="4.8" fill="#72aa6c" stroke="#587a56" stroke-width="0.9"/>
<circle cx="464.0" cy="324.4" r="5.2" fill="#c47ac2" stroke="#6529aa" stroke-width="1.5"/>
<circle cx="486.5" cy="324.4" r="5.2" fill="#c47ac2" stroke="#6529aa" stroke-width="1.5"/>
<circle cx="475.2" cy="321.0" r="5.2" fill="#c47ac2" stroke="#6529aa" stroke-width="1.5"/>
<circle cx="464.0" cy="349.0" r="4.9" fill="#f8f598" stroke="#f41616" stroke-width="2.0"/>
<circle cx="486.4" cy="349.6" r="4.9" fill="#f8f598" stroke="#f41616" stroke-width="2.0"/>
<circle cx="475.0" cy="345.6" r="4.9" fill="#f8f598" stroke="#f41616" stroke-width="2.0"/>
</g>
</svg>
</body></html>
